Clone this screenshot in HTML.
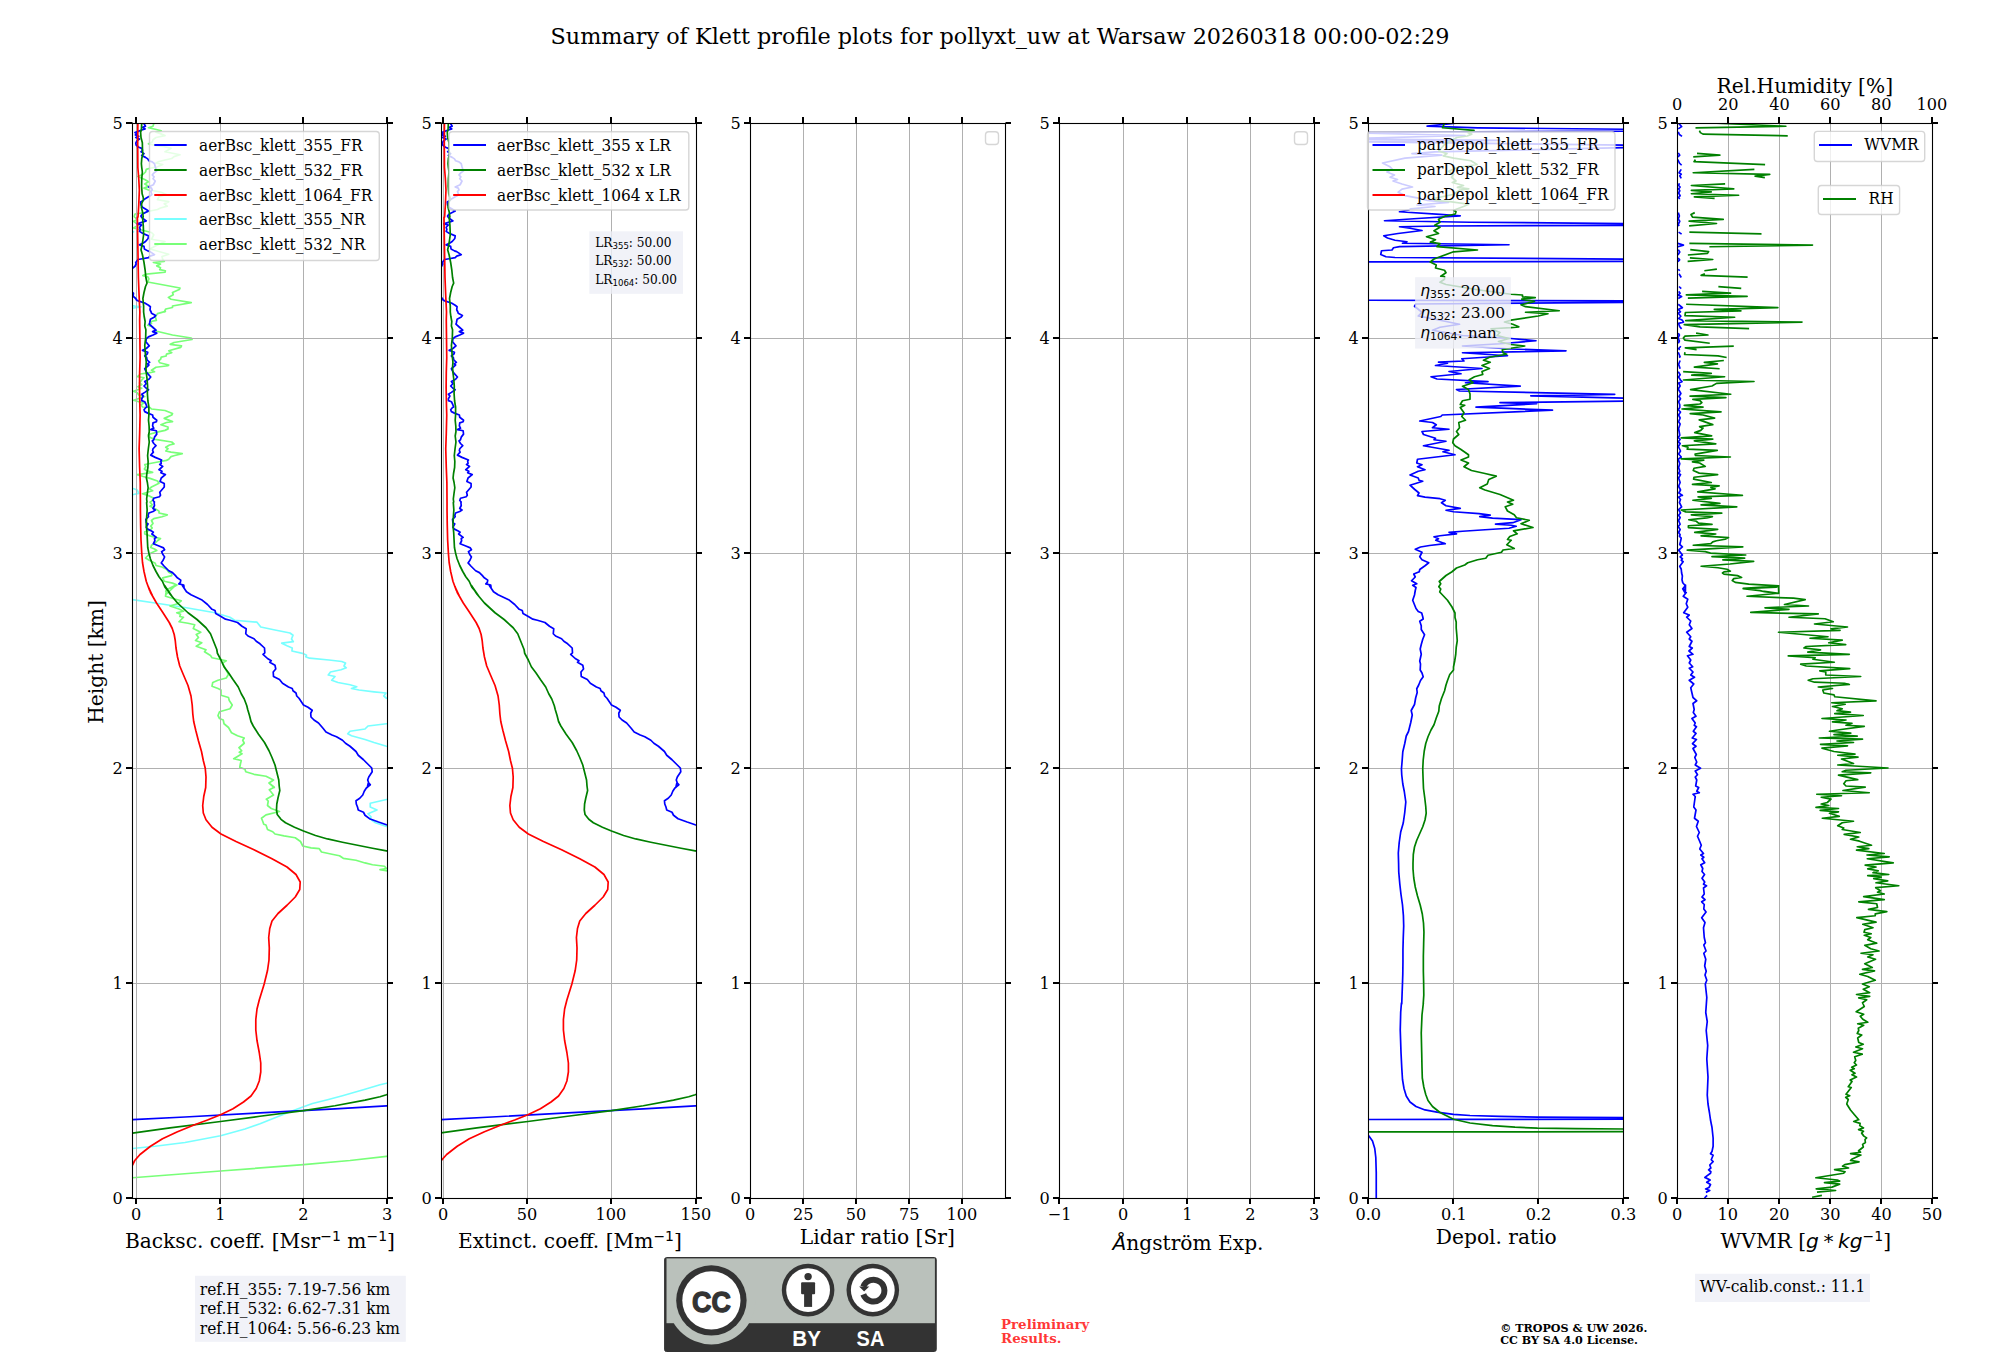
<!DOCTYPE html>
<html lang="en"><head><meta charset="utf-8"><title>Summary of Klett profile plots for pollyxt_uw at Warsaw</title>
<style>html,body{margin:0;padding:0;background:#fff}body{width:2000px;height:1360px;overflow:hidden}svg{display:block}text{white-space:pre}</style>
</head><body>
<svg xmlns="http://www.w3.org/2000/svg" width="2000" height="1360" viewBox="0 0 2000 1360">
<rect x="0" y="0" width="2000" height="1360" fill="#fff"/>
<defs>
<clipPath id="c1"><rect x="132.5" y="123.5" width="255" height="1075"/></clipPath>
<clipPath id="c2"><rect x="441.5" y="123.5" width="255" height="1075"/></clipPath>
<clipPath id="c3"><rect x="750.5" y="123.5" width="255" height="1075"/></clipPath>
<clipPath id="c4"><rect x="1059.5" y="123.5" width="255" height="1075"/></clipPath>
<clipPath id="c5"><rect x="1368.5" y="123.5" width="255" height="1075"/></clipPath>
<clipPath id="c6"><rect x="1677.5" y="123.5" width="255" height="1075"/></clipPath>
</defs>
<text x="1000" y="44.2" font-family="'DejaVu Serif','Liberation Serif',serif" font-size="22.32" fill="#000" text-anchor="middle">Summary of Klett profile plots for pollyxt_uw at Warsaw 20260318 00:00-02:29</text>
<g id="p1">
<g clip-path="url(#c1)">
<polyline points="131.25,231 133.5,231.75 131.25,232.88" fill="none" stroke="#78ffff" stroke-width="1.7" stroke-linejoin="round" stroke-linecap="butt"/>
<polyline points="131.25,305.38 135,306.12 141,306.88 133.5,308 131.25,308.38" fill="none" stroke="#78ffff" stroke-width="1.7" stroke-linejoin="round" stroke-linecap="butt"/>
<polyline points="131.25,487.75 133.12,488.5 137.25,490 138.75,493.38 133.5,494.5 131.25,494.88" fill="none" stroke="#78ffff" stroke-width="1.7" stroke-linejoin="round" stroke-linecap="butt"/>
<polyline points="125,598.8 132.5,599.7 155,603 185,607.5 215,612.75 230,617.25 234.5,620.25 257,622.2 260.75,627 275,630 290,633 293,635.25 291.5,639 293.3,641.7 281.75,643.2 287,645.75 292.25,648 291.95,651 303.5,653.7 306.5,655.2 305.75,656.7 309.5,658.2 329,660 341.75,661.5 345.5,663 344,666 346.25,667.8 341,669.75 330.5,672 328.25,675 335,676.5 331.7,680.25 338,682.5 350,684.75 356.75,686.7 351.5,688.5 359,690 374,691.8 386,693 383.75,696 386.45,698.25 395,699.75" fill="none" stroke="#78ffff" stroke-width="1.7" stroke-linejoin="round" stroke-linecap="butt"/>
<polyline points="395,722.7 386.45,723.75 368,726 365,729 350,731.25 347.75,733.8 351.5,735.75 365,739.5 374,742.5 386.45,746.25 395,748.5" fill="none" stroke="#78ffff" stroke-width="1.7" stroke-linejoin="round" stroke-linecap="butt"/>
<polyline points="395,798.3 386.45,799.5 380,801 370.25,803.25 370.25,807 377,810 368,813.75 371,816.75 370.25,819 375.5,822.75 386.45,826.5 395,828.75" fill="none" stroke="#78ffff" stroke-width="1.7" stroke-linejoin="round" stroke-linecap="butt"/>
<polyline points="125,1149.1 132.5,1148.5 155,1146.25 185,1142.5 220.55,1135.75 245,1129 260,1123.75 275,1117.75 290,1111.75 303.5,1106.8 312.5,1103.5 327.5,1099.75 342.5,1095.7 365,1089.25 380,1084.75 386.45,1083.25 395,1081" fill="none" stroke="#78ffff" stroke-width="1.7" stroke-linejoin="round" stroke-linecap="butt"/>
<polyline points="154.12,122.5 153,126.25 148.5,127.75 155.25,129.25 161.25,130.75 156,132.25 159.75,133.38 165,135.62 156,137.5 153,139.75 152.25,142 148.5,143.88 155.25,145.38 163.5,146.5 171,148.38 165,151.75 172.5,153.25 180,154.75 174,156.62 171.75,158.5 165,160 159,161.5 156,163 162.75,164.5 157.5,166.75 150,168.25 146.25,169.38 145.5,172 143.25,174.25 138,176.5 144.75,179.5 148.5,181.75 144.75,184 148.5,186.25 144,188.12 148.5,190 153.75,190.75 161.25,192.25 166.5,194.5 159,196.75 157.5,199.75 168.75,201.62 164.25,203.88 167.25,206.12 160.5,208 157.5,209.5 150,211 144.75,212.5 135,214 134.25,216.25 134.25,216.75 137.25,219.75 133.5,221.25 138.75,225 133.5,228 142.5,230.25 151.5,232.5 153.75,234.75 151.5,239.25 165,241.5 155.25,246 150,249 168.75,254.25 162,256.5 162.75,259.5 164.25,261.38 153.38,262.5 160.5,264 156.75,265.88 160.5,267.75 159.75,269.62 165.38,270.75 165,272.25 146.25,274.12 142.88,275.62 147.75,276.75 148.88,279 147.75,282 180,288 179.25,289.5 172.5,292.5 173.25,294.75 168.38,297.38 171,299.25 191.25,302.62 172.5,306 172.5,307.5 165.75,309 164.25,312 165.38,311.38 157.5,313.62 155.25,317 156,318.88 156.38,320.38 150.75,321.5 151.5,323.38 147.75,325.25 152.25,326.75 156.75,331.25 172.5,335 191.25,338 192,339.5 174,342.5 170.25,344.38 181.5,345.88 180.75,347.38 168.75,350.75 171.75,352.62 166.5,354.12 166.12,356 161.25,357.12 160.5,359.38 158.62,360.88 159.75,362.75 168.75,365 168,365.75 156,367.25 151.5,370.25 154.5,371.75 148.5,372.88 140.25,374 137.62,376.62 144,377.75 141.75,380 139.5,383 141.75,384.5 138,386.75 141.75,388.25 133.5,391.25 137.25,392.75 138.75,395 144.75,396.5 133.5,400.25 138.75,401.75 144.75,402.5 141,404.75 142.5,407 150,407.5 151.5,409 165,410.5 172.5,413.5 171.75,415 164.25,418.38 172.5,421.6 166.5,422.5 160.88,424.75 168,427 168,428.88 165,430.38 158.25,431.88 148.5,434.5 150,437.5 155.25,439.38 171.75,442 174,443.88 169.5,445 165.75,447.25 168,448.75 165.75,451 171,452.12 182.25,453.62 174.75,455.5 171,456.62 168.75,459.25 166.5,460.38 160.5,461.5 144.75,464.5 145.88,466.75 144.38,469 146.25,470.5 152.62,472.38 142.5,473.88 137.25,474.62 143.25,476.5 150,478.38 157.5,481 159,483.25 151.5,487 149.25,488.88 152.62,490.75 142.5,493.75 148.5,495.62 153.75,498.25 151.5,501.25 150,502.12 152.25,504.75 150,506.25 156,509.25 159,511.12 159,513 167.25,514.88 162,516.75 153.75,518.62 151.5,520.5 153,523.5 150.75,526.12 152.25,528 150,530.25 144.75,531.75 144.75,534 150,535.88 155.25,537.38 160.5,538.5 157.5,540.75 155.25,543 151.5,545.25 150.75,547.5 154.5,549 156.75,550.5 151.5,552.75 147.75,555.75 145.5,558 149.25,560.25 155.25,563.25 156,565.5 162,567 166.5,569.25 168.75,572.25 171.75,573.75 171.75,575.62 162.75,577.88 164.25,581.25 172.5,583.12 177,585 172.5,587.62 168,588.75 165.75,591 166.5,594 176,585 170,588 166.25,590.25 165.5,596.25 173,598.5 181.25,600.75 177.5,603.75 170,606 179,609 183.5,611.25 176.75,612.75 180.5,614.25 179.75,616.5 183.5,617.25 179,621.75 188,623.25 194.75,624.75 193.25,628.5 200.75,632.25 196.25,634.5 198.5,637.5 195.5,640.5 201.8,642.75 196.25,646.2 206,649.8 204.5,651.75 210.5,655.5 212,657.75 226.25,660.75 222.5,663 225.5,669 228.5,674.25 226.25,678 218,680.25 212.75,682.5 212,686.25 218,688.5 221,690 221,695.25 228.5,697.5 229.25,700.5 232.25,705 230,708.75 219.5,711.75 218,715.5 219.5,718.5 223.25,720 224,723.75 228.5,727.5 231.5,732.75 237.5,735.75 244.25,738 242.75,740.25 244.25,743.25 239,747.75 241.7,750.75 239.3,752.25 242,753.75 233.75,758.7 241.25,760.5 240.5,763.5 239.75,767.25 245,769.2 245.75,771.75 254,774.3 266,776.25 273.5,780 269,783 274.25,787.5 269,783 274.25,787.2 269.3,789.75 273.5,795 266.3,799.2 268.25,801 267.5,805.5 271.25,808.5 279.5,811.5 266,814.8 261.5,818.25 262.7,821.25 263.75,824.25 266,825 267.5,829.5 272.75,831.75 275,834 284,835.8 295.25,837.75 300.5,841.5 302.75,846 311,847.8 319.25,848.7 321.5,852 332,854.25 339.5,855.75 343.25,858.3 356,860.25 365,862.95 372.5,864.75 384.5,866.25 386.45,868.5 380,869.7 387.5,870.9 395,871.8" fill="none" stroke="#78ff78" stroke-width="1.7" stroke-linejoin="round" stroke-linecap="butt"/>
<polyline points="125,1178.35 132.5,1177.75 220.55,1171 303.5,1164.7 350,1160.5 386.45,1156.3 395,1155.25" fill="none" stroke="#78ff78" stroke-width="1.7" stroke-linejoin="round" stroke-linecap="butt"/>
</g>
<line x1="136.5" y1="123.5" x2="136.5" y2="1198.5" stroke="#b0b0b0" stroke-width="1"/>
<line x1="220.5" y1="123.5" x2="220.5" y2="1198.5" stroke="#b0b0b0" stroke-width="1"/>
<line x1="303.5" y1="123.5" x2="303.5" y2="1198.5" stroke="#b0b0b0" stroke-width="1"/>
<line x1="387.5" y1="123.5" x2="387.5" y2="1198.5" stroke="#b0b0b0" stroke-width="1"/>
<line x1="132.5" y1="1198.5" x2="387.5" y2="1198.5" stroke="#b0b0b0" stroke-width="1"/>
<line x1="132.5" y1="983.5" x2="387.5" y2="983.5" stroke="#b0b0b0" stroke-width="1"/>
<line x1="132.5" y1="768.5" x2="387.5" y2="768.5" stroke="#b0b0b0" stroke-width="1"/>
<line x1="132.5" y1="553.5" x2="387.5" y2="553.5" stroke="#b0b0b0" stroke-width="1"/>
<line x1="132.5" y1="338.5" x2="387.5" y2="338.5" stroke="#b0b0b0" stroke-width="1"/>
<line x1="132.5" y1="123.5" x2="387.5" y2="123.5" stroke="#b0b0b0" stroke-width="1"/>
<g clip-path="url(#c1)">
<polyline points="143.25,122.5 145.5,126.25 142.5,127.38 145.12,128.88 141.75,130 138.75,131.12 135,132.62 136.88,133.75 135.38,134.88 138.75,136.38 135.75,137.5 139.5,139 136.88,140.88 135.75,143.12 136.12,145 138.75,147.25 141.75,148.38 142.5,150.25 141,151.75 144,153.62 141.75,155.5 145.5,157.38 147.75,158.88 148.88,160.75 152.25,161.88 154.5,163.75 155.25,166.75 156,169 156.75,170.88 153.75,173.12 152.25,175 154.12,176.88 153,178.75 155.25,181 153.38,184.75 148.5,187 151.5,188.12 152.25,190 150.75,191.5 151.88,194.5 150,196 148.5,196.75 144.75,199 143.25,200.5 140.62,202 141,205 142.5,207.25 146.25,209.5 148.5,211 145.5,212.5 142.5,214 141,215.88 141,216.38 142.5,218.25 146.25,220.88 137.25,223.88 141.75,225 139.5,227.25 140.25,229.5 139.5,231.38 142.5,233.25 148.5,235.88 148.12,238.5 145.5,241.5 143.25,243 139.5,244.88 144,246.38 144.38,249 147.75,250.88 150,251.62 154.5,254.62 150,256.12 148.5,257.62 142.5,258.75 138,259.5 135.75,262.5 136.12,264 135,266.25 132.75,268.12 127.5,270 127.5,291 132.75,292.5 133.5,293.25 133.12,296.25 135.75,298.5 136.5,300 138.75,301.12 144.75,303 148.5,305.25 150.38,306.75 150,309.75 151.12,312 151.5,313.25 155.62,315.5 154.5,317 150.38,319.25 149.62,323 149.25,324.12 153,327.5 156,330.12 152.62,331.62 156.75,333.12 153,335 148.5,336.88 146.25,338.75 145.88,341.75 149.25,345.88 146.25,348.5 142.5,350.38 147.75,352.25 147.38,353.75 144.75,356 146.62,357.5 147,359.75 149.62,362.38 147.38,363.88 148.88,365 144.75,368.75 145.88,371 147,372.88 150.75,377 148.88,379.25 144.75,381.5 146.25,383.75 144,386 146.25,388.25 148.5,389.75 144.75,392.38 141.75,394.25 143.25,396.12 141.75,398.75 141.75,400.62 144.75,401.75 145.88,404 147,407 145.88,407.5 144,409.75 144.75,411.62 147.75,413.12 152.62,415 153,417.25 156.75,420.25 156.38,421.75 153,422.88 152.62,425.88 153.75,428.12 150.75,429.62 156.38,430.75 156.75,434.12 154.5,437.12 153.75,439.75 152.25,440.88 153.75,443.5 156,445.6 153,448.75 152.62,450.62 153.38,452.12 150.75,455.12 155.25,457.38 161.62,460 160.88,461.12 161.25,463.38 159.75,464.5 162.75,466.38 159,469.75 162,471.25 160.88,472.75 165.38,474.62 161.25,478 160.12,481.38 164.25,483.62 164.25,487 159.75,492.25 160.5,495.25 159.38,496.75 153.75,498.25 153,500.5 154.5,502 154.12,502.5 154.5,505.5 153,508.5 155.25,510 153,511.5 148.88,513 148.12,515.25 148.5,516.75 145.88,519.38 146.25,522.75 148.12,523.88 146.25,527.25 147.75,529.12 151.5,531 153.38,532.12 151.88,534 156.38,537.38 154.5,538.5 154.88,540.75 153.38,543.75 159,546 163.5,547.88 164.62,549.75 161.62,551.62 162.75,554.25 164.62,556.88 163.12,560.25 161.25,562.88 164.25,566.25 168.75,570.75 172.5,572.62 175.5,575.62 177,577.5 180.75,580.12 180.38,582.38 178.88,583.88 183.75,585 184.12,588 182,585 186.5,591.75 191,594.75 201.5,599.7 207.5,604.5 212,609.3 215,610.5 215.75,613.5 221,616.5 225.5,619.2 230,620.25 237.5,622.5 242,626.25 246.2,628.8 245.75,633.75 248,636 254,638.7 256.25,641.25 260,643.8 264.5,648 264.8,652.8 263,654.3 267.5,658.5 271.25,660.75 269.75,662.25 275,665.25 275.75,669 273.2,672 273.5,676.5 279.5,679.5 282.5,683.25 288.5,687 292.25,688.5 293,690.75 296,693 296.75,696 299,698.25 302,702.75 303.5,705 308,707.25 312.2,710.25 310.7,713.25 311,717 314,720 318.5,723 323,728.25 326,732 332,735 336.5,736.8 342.5,740.25 345.5,743.25 350,746.25 356,751.5 358.25,755.25 363.5,759.75 367.25,763.5 371.75,768 372.2,771.75 368.75,777 367.7,780 368.75,783 370.25,784.5 367.25,787.5 368.3,783 370.25,784.8 366.5,787.8 364.25,791.25 362.75,795 359.75,798.3 356,800.7 356.3,804 357.5,807 358.25,810 363.5,812.25 365,815.25 369.5,818.7 378.5,822 386.45,824.7 395,827.25" fill="none" stroke="#0000ff" stroke-width="1.7" stroke-linejoin="round" stroke-linecap="butt"/>
<polyline points="125,1120.15 132.5,1119.7 185,1117 260,1112.8 335,1108.9 386.45,1105.9 395,1105.45" fill="none" stroke="#0000ff" stroke-width="1.7" stroke-linejoin="round" stroke-linecap="butt"/>
<polyline points="141.75,122.5 141.38,130 140.62,132.25 141,137.5 142.35,142.75 142.5,150.25 142.88,154 141.75,158.5 141.38,163.75 141.75,167.5 142.35,172 141.75,178.75 141.6,186.25 142.12,193.75 143.25,197.5 143.4,199.75 141.75,203.5 141.38,207.25 142.5,211.75 143.25,217 142.5,217.5 143.25,225 143.62,234.75 142.88,240 142.12,245.25 141,249.75 142.5,255 144,262.5 145.12,270 145.88,277.5 147,283.12 145.5,286.5 144,292.5 142.88,298.5 143.62,306 143.62,312 144.15,316.25 145.12,321.5 144.75,326 145.88,329.75 145.65,338 144.75,345.5 145.12,350 145.5,356 146.25,362 145.88,367.25 146.25,372.5 147,378.5 147.6,386 147.38,393.5 147.9,401 148.88,407 148.88,407.5 148.88,415 148.5,420.25 149.1,426.25 149.25,431.5 148.5,436 149.25,442 148.35,448.75 147.6,455.5 148.12,461.5 147.9,467.5 146.85,473.5 146.4,478 147.38,482.5 148.12,487.75 147.38,493 146.62,499 147,502 146.62,502.5 147.15,510 146.62,517.5 146.25,525 147,532.5 147.38,540 147.75,547.5 148.88,553.12 150.38,558.75 153,565.5 156,571.5 159,576.75 162.38,581.25 165,587.25 168.75,591.75 171.75,595.88 164.75,585.75 170,594 177.5,603 188,612.75 197,619.5 206,627.75 210.5,633.75 213.5,641.25 216.8,649.5 217.4,653.25 221,660 224,666.75 228.5,672.75 233,679.5 238.25,687 241.25,693.75 244.25,699 246.8,705.75 247.7,709.5 249.5,715.5 251,721.5 253.25,726 258.5,734.25 264.5,742.5 269,750.75 272,757.5 275,765 276.5,771 278.75,780 279.2,786 279.8,790.5 278,798 276.8,804 276.5,810 277.25,814.5 281,819.3 285.5,822.75 294.5,827.25 303.5,831 315.5,835.5 327.5,838.95 342.5,842.25 357.5,845.25 372.5,848.25 386.45,850.8 395,852.3" fill="none" stroke="#008000" stroke-width="1.7" stroke-linejoin="round" stroke-linecap="butt"/>
<polyline points="125,1134.25 132.5,1133.2 170,1127.8 220.55,1121.5 260,1116.25 303.5,1110.7 335,1105.75 365,1100.2 380,1096.75 386.45,1094.8 395,1091.8" fill="none" stroke="#008000" stroke-width="1.7" stroke-linejoin="round" stroke-linecap="butt"/>
<polyline points="137.85,122.5 137.7,145 137.85,167.5 138.75,178.75 139.35,190 138.75,205 138,217 137.4,217.5 137.62,232.5 138,255 138.38,277.5 139.12,296.25 139.88,312 139.65,320 139.88,338 140.1,357.5 139.65,372.5 139.5,387.5 139.88,407 140.1,415 139.65,433.75 139.12,448.75 139.65,467.5 140.25,482.5 140.4,502 140.4,510 140.62,525 141,540 141.75,553.12 142.5,562.5 144,571.5 146.25,581.25 149.25,589.5 152.4,595.5 148.25,586.5 150.5,592.5 156.5,603 162.5,612 169.25,622.5 172.25,628.5 174.2,634.5 175.25,640.5 176,648 177.5,657 179.75,666 183.5,675 188,685.5 191,696 192.2,705 192.8,714 193.7,721.5 195.8,730.5 198.5,741 201.5,751.5 203.3,760.5 205.25,768.3 206,777 205.7,787.5 203.75,796.5 202.7,805.5 203.3,813 206,819.75 212,827.25 221,834 236,841.5 254,849.75 272,858.75 287,867 296,874.5 300.2,882 299.75,889.5 295.25,897 287,905.25 278,913.5 272,921 269.75,928.5 268.7,937.5 269.3,948 269,960 267.5,970.5 264.2,984 259.25,1000 257,1009 255.8,1019.5 255.8,1030 257,1040.5 259.25,1052.5 260.75,1063 260.75,1072 259.25,1081 256.25,1088.5 251,1096 243.5,1102 233,1108.75 220.55,1114.75 207.5,1120 194,1124.95 177.5,1131.7 162.5,1138.75 150.5,1146.25 140,1154.5 134.75,1160.5 132.5,1165 128,1177" fill="none" stroke="#ff0000" stroke-width="1.7" stroke-linejoin="round" stroke-linecap="butt"/>
</g>
<line x1="136" y1="1198.5" x2="136" y2="1204" stroke="#000" stroke-width="2"/>
<line x1="136" y1="123.5" x2="136" y2="117" stroke="#000" stroke-width="2"/>
<line x1="220" y1="1198.5" x2="220" y2="1204" stroke="#000" stroke-width="2"/>
<line x1="220" y1="123.5" x2="220" y2="117" stroke="#000" stroke-width="2"/>
<line x1="303" y1="1198.5" x2="303" y2="1204" stroke="#000" stroke-width="2"/>
<line x1="303" y1="123.5" x2="303" y2="117" stroke="#000" stroke-width="2"/>
<line x1="387" y1="1198.5" x2="387" y2="1204" stroke="#000" stroke-width="2"/>
<line x1="387" y1="123.5" x2="387" y2="117" stroke="#000" stroke-width="2"/>
<line x1="132.5" y1="1198" x2="126" y2="1198" stroke="#000" stroke-width="2"/>
<line x1="387.5" y1="1198" x2="393" y2="1198" stroke="#000" stroke-width="2"/>
<line x1="132.5" y1="983" x2="126" y2="983" stroke="#000" stroke-width="2"/>
<line x1="387.5" y1="983" x2="393" y2="983" stroke="#000" stroke-width="2"/>
<line x1="132.5" y1="768" x2="126" y2="768" stroke="#000" stroke-width="2"/>
<line x1="387.5" y1="768" x2="393" y2="768" stroke="#000" stroke-width="2"/>
<line x1="132.5" y1="553" x2="126" y2="553" stroke="#000" stroke-width="2"/>
<line x1="387.5" y1="553" x2="393" y2="553" stroke="#000" stroke-width="2"/>
<line x1="132.5" y1="338" x2="126" y2="338" stroke="#000" stroke-width="2"/>
<line x1="387.5" y1="338" x2="393" y2="338" stroke="#000" stroke-width="2"/>
<line x1="132.5" y1="123" x2="126" y2="123" stroke="#000" stroke-width="2"/>
<line x1="387.5" y1="123" x2="393" y2="123" stroke="#000" stroke-width="2"/>
<rect x="132.5" y="123.5" width="255" height="1075" fill="none" stroke="#000" stroke-width="1.1"/>
<text transform="translate(136.26,1219.8) scale(0.9690,1)" font-family="'DejaVu Serif','Liberation Serif',serif" font-size="16.67" fill="#000" text-anchor="middle">0</text>
<text transform="translate(220.4,1219.8) scale(0.9690,1)" font-family="'DejaVu Serif','Liberation Serif',serif" font-size="16.67" fill="#000" text-anchor="middle">1</text>
<text transform="translate(303.5,1219.8) scale(0.9690,1)" font-family="'DejaVu Serif','Liberation Serif',serif" font-size="16.67" fill="#000" text-anchor="middle">2</text>
<text transform="translate(387.24,1219.8) scale(0.9690,1)" font-family="'DejaVu Serif','Liberation Serif',serif" font-size="16.67" fill="#000" text-anchor="middle">3</text>
<text transform="translate(122.9,1204.4) scale(0.9690,1)" font-family="'DejaVu Serif','Liberation Serif',serif" font-size="16.67" fill="#000" text-anchor="end">0</text>
<text transform="translate(122.9,989.4) scale(0.9690,1)" font-family="'DejaVu Serif','Liberation Serif',serif" font-size="16.67" fill="#000" text-anchor="end">1</text>
<text transform="translate(122.9,774.4) scale(0.9690,1)" font-family="'DejaVu Serif','Liberation Serif',serif" font-size="16.67" fill="#000" text-anchor="end">2</text>
<text transform="translate(122.9,559.4) scale(0.9690,1)" font-family="'DejaVu Serif','Liberation Serif',serif" font-size="16.67" fill="#000" text-anchor="end">3</text>
<text transform="translate(122.9,344.4) scale(0.9690,1)" font-family="'DejaVu Serif','Liberation Serif',serif" font-size="16.67" fill="#000" text-anchor="end">4</text>
<text transform="translate(122.9,129.4) scale(0.9690,1)" font-family="'DejaVu Serif','Liberation Serif',serif" font-size="16.67" fill="#000" text-anchor="end">5</text>
</g>
<g id="p2">
<g clip-path="url(#c2)">
</g>
<line x1="443.5" y1="123.5" x2="443.5" y2="1198.5" stroke="#b0b0b0" stroke-width="1"/>
<line x1="527.5" y1="123.5" x2="527.5" y2="1198.5" stroke="#b0b0b0" stroke-width="1"/>
<line x1="611.5" y1="123.5" x2="611.5" y2="1198.5" stroke="#b0b0b0" stroke-width="1"/>
<line x1="696.5" y1="123.5" x2="696.5" y2="1198.5" stroke="#b0b0b0" stroke-width="1"/>
<line x1="441.5" y1="1198.5" x2="696.5" y2="1198.5" stroke="#b0b0b0" stroke-width="1"/>
<line x1="441.5" y1="983.5" x2="696.5" y2="983.5" stroke="#b0b0b0" stroke-width="1"/>
<line x1="441.5" y1="768.5" x2="696.5" y2="768.5" stroke="#b0b0b0" stroke-width="1"/>
<line x1="441.5" y1="553.5" x2="696.5" y2="553.5" stroke="#b0b0b0" stroke-width="1"/>
<line x1="441.5" y1="338.5" x2="696.5" y2="338.5" stroke="#b0b0b0" stroke-width="1"/>
<line x1="441.5" y1="123.5" x2="696.5" y2="123.5" stroke="#b0b0b0" stroke-width="1"/>
<g clip-path="url(#c2)">
<polyline points="449.91,122.5 452.18,126.25 449.15,127.38 451.8,128.88 448.39,130 445.37,131.12 441.59,132.62 443.48,133.75 441.97,134.88 445.37,136.38 442.34,137.5 446.13,139 443.48,140.88 442.34,143.12 442.72,145 445.37,147.25 448.39,148.38 449.15,150.25 447.64,151.75 450.66,153.62 448.39,155.5 452.18,157.38 454.45,158.88 455.58,160.75 458.98,161.88 461.25,163.75 462.01,166.75 462.76,169 463.52,170.88 460.5,173.12 458.98,175 460.87,176.88 459.74,178.75 462.01,181 460.12,184.75 455.2,187 458.23,188.12 458.98,190 457.47,191.5 458.61,194.5 456.71,196 455.2,196.75 451.42,199 449.91,200.5 447.26,202 447.64,205 449.15,207.25 452.93,209.5 455.2,211 452.18,212.5 449.15,214 447.64,215.88 447.64,216.38 449.15,218.25 452.93,220.88 443.86,223.88 448.39,225 446.13,227.25 446.88,229.5 446.13,231.38 449.15,233.25 455.2,235.88 454.82,238.5 452.18,241.5 449.91,243 446.13,244.88 450.66,246.38 451.04,249 454.45,250.88 456.71,251.62 461.25,254.62 456.71,256.12 455.2,257.62 449.15,258.75 444.61,259.5 442.34,262.5 442.72,264 441.59,266.25 439.32,268.12 434.02,270 434.02,291 439.32,292.5 440.07,293.25 439.7,296.25 442.34,298.5 443.1,300 445.37,301.12 451.42,303 455.2,305.25 457.09,306.75 456.71,309.75 457.85,312 458.23,313.25 462.39,315.5 461.25,317 457.09,319.25 456.34,323 455.96,324.12 459.74,327.5 462.76,330.12 459.36,331.62 463.52,333.12 459.74,335 455.2,336.88 452.93,338.75 452.55,341.75 455.96,345.88 452.93,348.5 449.15,350.38 454.45,352.25 454.07,353.75 451.42,356 453.31,357.5 453.69,359.75 456.34,362.38 454.07,363.88 455.58,365 451.42,368.75 452.55,371 453.69,372.88 457.47,377 455.58,379.25 451.42,381.5 452.93,383.75 450.66,386 452.93,388.25 455.2,389.75 451.42,392.38 448.39,394.25 449.91,396.12 448.39,398.75 448.39,400.62 451.42,401.75 452.55,404 453.69,407 452.55,407.5 450.66,409.75 451.42,411.62 454.45,413.12 459.36,415 459.74,417.25 463.52,420.25 463.14,421.75 459.74,422.88 459.36,425.88 460.5,428.12 457.47,429.62 463.14,430.75 463.52,434.12 461.25,437.12 460.5,439.75 458.98,440.88 460.5,443.5 462.76,445.6 459.74,448.75 459.36,450.62 460.12,452.12 457.47,455.12 462.01,457.38 468.44,460 467.68,461.12 468.06,463.38 466.55,464.5 469.57,466.38 465.79,469.75 468.82,471.25 467.68,472.75 472.22,474.62 468.06,478 466.92,481.38 471.08,483.62 471.08,487 466.55,492.25 467.3,495.25 466.17,496.75 460.5,498.25 459.74,500.5 461.25,502 460.87,502.5 461.25,505.5 459.74,508.5 462.01,510 459.74,511.5 455.58,513 454.82,515.25 455.2,516.75 452.55,519.38 452.93,522.75 454.82,523.88 452.93,527.25 454.45,529.12 458.23,531 460.12,532.12 458.61,534 463.14,537.38 461.25,538.5 461.63,540.75 460.12,543.75 465.79,546 470.33,547.88 471.46,549.75 468.44,551.62 469.57,554.25 471.46,556.88 469.95,560.25 468.06,562.88 471.08,566.25 475.62,570.75 479.4,572.62 482.43,575.62 483.94,577.5 487.72,580.12 487.35,582.38 485.83,583.88 490.75,585 491.13,588 488.98,585 493.52,591.75 498.06,594.75 508.65,599.7 514.7,604.5 519.24,609.3 522.26,610.5 523.02,613.5 528.31,616.5 532.85,619.2 537.39,620.25 544.95,622.5 549.49,626.25 553.73,628.8 553.27,633.75 555.54,636 561.59,638.7 563.86,641.25 567.64,643.8 572.18,648 572.49,652.8 570.67,654.3 575.21,658.5 578.99,660.75 577.48,662.25 582.77,665.25 583.53,669 580.96,672 581.26,676.5 587.31,679.5 590.34,683.25 596.39,687 600.17,688.5 600.92,690.75 603.95,693 604.71,696 606.97,698.25 610,702.75 611.51,705 616.05,707.25 620.29,710.25 618.77,713.25 619.08,717 622.1,720 626.64,723 631.18,728.25 634.2,732 640.25,735 644.79,736.8 650.84,740.25 653.87,743.25 658.41,746.25 664.46,751.5 666.73,755.25 672.02,759.75 675.8,763.5 680.34,768 680.79,771.75 677.31,777 676.26,780 677.31,783 678.83,784.5 675.8,787.5 676.86,783 678.83,784.8 675.05,787.8 672.78,791.25 671.26,795 668.24,798.3 664.46,800.7 664.76,804 665.97,807 666.73,810 672.02,812.25 673.53,815.25 678.07,818.7 687.15,822 695.16,824.7 703.79,827.25" fill="none" stroke="#0000ff" stroke-width="1.7" stroke-linejoin="round" stroke-linecap="butt"/>
<polyline points="431.5,1120.15 439.07,1119.7 492.01,1117 567.64,1112.8 643.28,1108.9 695.16,1105.9 703.79,1105.45" fill="none" stroke="#0000ff" stroke-width="1.7" stroke-linejoin="round" stroke-linecap="butt"/>
<polyline points="448.39,122.5 448.02,130 447.26,132.25 447.64,137.5 449,142.75 449.15,150.25 449.53,154 448.39,158.5 448.02,163.75 448.39,167.5 449,172 448.39,178.75 448.24,186.25 448.77,193.75 449.91,197.5 450.06,199.75 448.39,203.5 448.02,207.25 449.15,211.75 449.91,217 449.15,217.5 449.91,225 450.29,234.75 449.53,240 448.77,245.25 447.64,249.75 449.15,255 450.66,262.5 451.8,270 452.55,277.5 453.69,283.12 452.18,286.5 450.66,292.5 449.53,298.5 450.29,306 450.29,312 450.81,316.25 451.8,321.5 451.42,326 452.55,329.75 452.33,338 451.42,345.5 451.8,350 452.18,356 452.93,362 452.55,367.25 452.93,372.5 453.69,378.5 454.29,386 454.07,393.5 454.6,401 455.58,407 455.58,407.5 455.58,415 455.2,420.25 455.81,426.25 455.96,431.5 455.2,436 455.96,442 455.05,448.75 454.29,455.5 454.82,461.5 454.6,467.5 453.54,473.5 453.08,478 454.07,482.5 454.82,487.75 454.07,493 453.31,499 453.69,502 453.31,502.5 453.84,510 453.31,517.5 452.93,525 453.69,532.5 454.07,540 454.45,547.5 455.58,553.12 457.09,558.75 459.74,565.5 462.76,571.5 465.79,576.75 469.19,581.25 471.84,587.25 475.62,591.75 478.65,595.88 471.59,585.75 476.88,594 484.45,603 495.04,612.75 504.11,619.5 513.19,627.75 517.73,633.75 520.75,641.25 524.08,649.5 524.68,653.25 528.31,660 531.34,666.75 535.88,672.75 540.42,679.5 545.71,687 548.74,693.75 551.76,699 554.33,705.75 555.24,709.5 557.06,715.5 558.57,721.5 560.84,726 566.13,734.25 572.18,742.5 576.72,750.75 579.75,757.5 582.77,765 584.28,771 586.55,780 587.01,786 587.61,790.5 585.8,798 584.59,804 584.28,810 585.04,814.5 588.82,819.3 593.36,822.75 602.44,827.25 611.51,831 623.61,835.5 635.72,838.95 650.84,842.25 665.97,845.25 681.1,848.25 695.16,850.8 703.79,852.3" fill="none" stroke="#008000" stroke-width="1.7" stroke-linejoin="round" stroke-linecap="butt"/>
<polyline points="431.5,1134.25 439.07,1133.2 476.88,1127.8 527.86,1121.5 567.64,1116.25 611.51,1110.7 643.28,1105.75 673.53,1100.2 688.66,1096.75 695.16,1094.8 703.79,1091.8" fill="none" stroke="#008000" stroke-width="1.7" stroke-linejoin="round" stroke-linecap="butt"/>
<polyline points="444.46,122.5 444.31,145 444.46,167.5 445.37,178.75 445.97,190 445.37,205 444.61,217 444.01,217.5 444.23,232.5 444.61,255 444.99,277.5 445.75,296.25 446.5,312 446.28,320 446.5,338 446.73,357.5 446.28,372.5 446.13,387.5 446.5,407 446.73,415 446.28,433.75 445.75,448.75 446.28,467.5 446.88,482.5 447.03,502 447.03,510 447.26,525 447.64,540 448.39,553.12 449.15,562.5 450.66,571.5 452.93,581.25 455.96,589.5 459.13,595.5 454.95,586.5 457.22,592.5 463.27,603 469.32,612 476.13,622.5 479.15,628.5 481.12,634.5 482.18,640.5 482.93,648 484.45,657 486.72,666 490.5,675 495.04,685.5 498.06,696 499.27,705 499.88,714 500.78,721.5 502.9,730.5 505.62,741 508.65,751.5 510.47,760.5 512.43,768.3 513.19,777 512.89,787.5 510.92,796.5 509.86,805.5 510.47,813 513.19,819.75 519.24,827.25 528.31,834 543.44,841.5 561.59,849.75 579.75,858.75 594.87,867 603.95,874.5 608.18,882 607.73,889.5 603.19,897 594.87,905.25 585.8,913.5 579.75,921 577.48,928.5 576.42,937.5 577.02,948 576.72,960 575.21,970.5 571.88,984 566.89,1000 564.62,1009 563.41,1019.5 563.41,1030 564.62,1040.5 566.89,1052.5 568.4,1063 568.4,1072 566.89,1081 563.86,1088.5 558.57,1096 551.01,1102 540.42,1108.75 527.86,1114.75 514.7,1120 501.09,1124.95 484.45,1131.7 469.32,1138.75 457.22,1146.25 446.63,1154.5 441.34,1160.5 439.07,1165 434.53,1177" fill="none" stroke="#ff0000" stroke-width="1.7" stroke-linejoin="round" stroke-linecap="butt"/>
</g>
<line x1="443" y1="1198.5" x2="443" y2="1204" stroke="#000" stroke-width="2"/>
<line x1="443" y1="123.5" x2="443" y2="117" stroke="#000" stroke-width="2"/>
<line x1="527" y1="1198.5" x2="527" y2="1204" stroke="#000" stroke-width="2"/>
<line x1="527" y1="123.5" x2="527" y2="117" stroke="#000" stroke-width="2"/>
<line x1="611" y1="1198.5" x2="611" y2="1204" stroke="#000" stroke-width="2"/>
<line x1="611" y1="123.5" x2="611" y2="117" stroke="#000" stroke-width="2"/>
<line x1="696" y1="1198.5" x2="696" y2="1204" stroke="#000" stroke-width="2"/>
<line x1="696" y1="123.5" x2="696" y2="117" stroke="#000" stroke-width="2"/>
<line x1="441.5" y1="1198" x2="435" y2="1198" stroke="#000" stroke-width="2"/>
<line x1="696.5" y1="1198" x2="702" y2="1198" stroke="#000" stroke-width="2"/>
<line x1="441.5" y1="983" x2="435" y2="983" stroke="#000" stroke-width="2"/>
<line x1="696.5" y1="983" x2="702" y2="983" stroke="#000" stroke-width="2"/>
<line x1="441.5" y1="768" x2="435" y2="768" stroke="#000" stroke-width="2"/>
<line x1="696.5" y1="768" x2="702" y2="768" stroke="#000" stroke-width="2"/>
<line x1="441.5" y1="553" x2="435" y2="553" stroke="#000" stroke-width="2"/>
<line x1="696.5" y1="553" x2="702" y2="553" stroke="#000" stroke-width="2"/>
<line x1="441.5" y1="338" x2="435" y2="338" stroke="#000" stroke-width="2"/>
<line x1="696.5" y1="338" x2="702" y2="338" stroke="#000" stroke-width="2"/>
<line x1="441.5" y1="123" x2="435" y2="123" stroke="#000" stroke-width="2"/>
<line x1="696.5" y1="123" x2="702" y2="123" stroke="#000" stroke-width="2"/>
<rect x="441.5" y="123.5" width="255" height="1075" fill="none" stroke="#000" stroke-width="1.1"/>
<text transform="translate(443.26,1219.8) scale(0.9690,1)" font-family="'DejaVu Serif','Liberation Serif',serif" font-size="16.67" fill="#000" text-anchor="middle">0</text>
<text transform="translate(527.09,1219.8) scale(0.9690,1)" font-family="'DejaVu Serif','Liberation Serif',serif" font-size="16.67" fill="#000" text-anchor="middle">50</text>
<text transform="translate(610.8,1219.8) scale(0.9690,1)" font-family="'DejaVu Serif','Liberation Serif',serif" font-size="16.67" fill="#000" text-anchor="middle">100</text>
<text transform="translate(695.8,1219.8) scale(0.9690,1)" font-family="'DejaVu Serif','Liberation Serif',serif" font-size="16.67" fill="#000" text-anchor="middle">150</text>
<text transform="translate(431.9,1204.4) scale(0.9690,1)" font-family="'DejaVu Serif','Liberation Serif',serif" font-size="16.67" fill="#000" text-anchor="end">0</text>
<text transform="translate(431.9,989.4) scale(0.9690,1)" font-family="'DejaVu Serif','Liberation Serif',serif" font-size="16.67" fill="#000" text-anchor="end">1</text>
<text transform="translate(431.9,774.4) scale(0.9690,1)" font-family="'DejaVu Serif','Liberation Serif',serif" font-size="16.67" fill="#000" text-anchor="end">2</text>
<text transform="translate(431.9,559.4) scale(0.9690,1)" font-family="'DejaVu Serif','Liberation Serif',serif" font-size="16.67" fill="#000" text-anchor="end">3</text>
<text transform="translate(431.9,344.4) scale(0.9690,1)" font-family="'DejaVu Serif','Liberation Serif',serif" font-size="16.67" fill="#000" text-anchor="end">4</text>
<text transform="translate(431.9,129.4) scale(0.9690,1)" font-family="'DejaVu Serif','Liberation Serif',serif" font-size="16.67" fill="#000" text-anchor="end">5</text>
</g>
<g id="p3">
<g clip-path="url(#c3)">
</g>
<line x1="750.5" y1="123.5" x2="750.5" y2="1198.5" stroke="#b0b0b0" stroke-width="1"/>
<line x1="803.5" y1="123.5" x2="803.5" y2="1198.5" stroke="#b0b0b0" stroke-width="1"/>
<line x1="856.5" y1="123.5" x2="856.5" y2="1198.5" stroke="#b0b0b0" stroke-width="1"/>
<line x1="909.5" y1="123.5" x2="909.5" y2="1198.5" stroke="#b0b0b0" stroke-width="1"/>
<line x1="962.5" y1="123.5" x2="962.5" y2="1198.5" stroke="#b0b0b0" stroke-width="1"/>
<line x1="750.5" y1="1198.5" x2="1005.5" y2="1198.5" stroke="#b0b0b0" stroke-width="1"/>
<line x1="750.5" y1="983.5" x2="1005.5" y2="983.5" stroke="#b0b0b0" stroke-width="1"/>
<line x1="750.5" y1="768.5" x2="1005.5" y2="768.5" stroke="#b0b0b0" stroke-width="1"/>
<line x1="750.5" y1="553.5" x2="1005.5" y2="553.5" stroke="#b0b0b0" stroke-width="1"/>
<line x1="750.5" y1="338.5" x2="1005.5" y2="338.5" stroke="#b0b0b0" stroke-width="1"/>
<line x1="750.5" y1="123.5" x2="1005.5" y2="123.5" stroke="#b0b0b0" stroke-width="1"/>
<g clip-path="url(#c3)">
</g>
<line x1="750" y1="1198.5" x2="750" y2="1204" stroke="#000" stroke-width="2"/>
<line x1="750" y1="123.5" x2="750" y2="117" stroke="#000" stroke-width="2"/>
<line x1="803" y1="1198.5" x2="803" y2="1204" stroke="#000" stroke-width="2"/>
<line x1="803" y1="123.5" x2="803" y2="117" stroke="#000" stroke-width="2"/>
<line x1="856" y1="1198.5" x2="856" y2="1204" stroke="#000" stroke-width="2"/>
<line x1="856" y1="123.5" x2="856" y2="117" stroke="#000" stroke-width="2"/>
<line x1="909" y1="1198.5" x2="909" y2="1204" stroke="#000" stroke-width="2"/>
<line x1="909" y1="123.5" x2="909" y2="117" stroke="#000" stroke-width="2"/>
<line x1="962" y1="1198.5" x2="962" y2="1204" stroke="#000" stroke-width="2"/>
<line x1="962" y1="123.5" x2="962" y2="117" stroke="#000" stroke-width="2"/>
<line x1="750.5" y1="1198" x2="744" y2="1198" stroke="#000" stroke-width="2"/>
<line x1="1005.5" y1="1198" x2="1011" y2="1198" stroke="#000" stroke-width="2"/>
<line x1="750.5" y1="983" x2="744" y2="983" stroke="#000" stroke-width="2"/>
<line x1="1005.5" y1="983" x2="1011" y2="983" stroke="#000" stroke-width="2"/>
<line x1="750.5" y1="768" x2="744" y2="768" stroke="#000" stroke-width="2"/>
<line x1="1005.5" y1="768" x2="1011" y2="768" stroke="#000" stroke-width="2"/>
<line x1="750.5" y1="553" x2="744" y2="553" stroke="#000" stroke-width="2"/>
<line x1="1005.5" y1="553" x2="1011" y2="553" stroke="#000" stroke-width="2"/>
<line x1="750.5" y1="338" x2="744" y2="338" stroke="#000" stroke-width="2"/>
<line x1="1005.5" y1="338" x2="1011" y2="338" stroke="#000" stroke-width="2"/>
<line x1="750.5" y1="123" x2="744" y2="123" stroke="#000" stroke-width="2"/>
<line x1="1005.5" y1="123" x2="1011" y2="123" stroke="#000" stroke-width="2"/>
<rect x="750.5" y="123.5" width="255" height="1075" fill="none" stroke="#000" stroke-width="1.1"/>
<text transform="translate(750.26,1219.8) scale(0.9690,1)" font-family="'DejaVu Serif','Liberation Serif',serif" font-size="16.67" fill="#000" text-anchor="middle">0</text>
<text transform="translate(803.31,1219.8) scale(0.9690,1)" font-family="'DejaVu Serif','Liberation Serif',serif" font-size="16.67" fill="#000" text-anchor="middle">25</text>
<text transform="translate(856.09,1219.8) scale(0.9690,1)" font-family="'DejaVu Serif','Liberation Serif',serif" font-size="16.67" fill="#000" text-anchor="middle">50</text>
<text transform="translate(909.17,1219.8) scale(0.9690,1)" font-family="'DejaVu Serif','Liberation Serif',serif" font-size="16.67" fill="#000" text-anchor="middle">75</text>
<text transform="translate(961.8,1219.8) scale(0.9690,1)" font-family="'DejaVu Serif','Liberation Serif',serif" font-size="16.67" fill="#000" text-anchor="middle">100</text>
<text transform="translate(740.9,1204.4) scale(0.9690,1)" font-family="'DejaVu Serif','Liberation Serif',serif" font-size="16.67" fill="#000" text-anchor="end">0</text>
<text transform="translate(740.9,989.4) scale(0.9690,1)" font-family="'DejaVu Serif','Liberation Serif',serif" font-size="16.67" fill="#000" text-anchor="end">1</text>
<text transform="translate(740.9,774.4) scale(0.9690,1)" font-family="'DejaVu Serif','Liberation Serif',serif" font-size="16.67" fill="#000" text-anchor="end">2</text>
<text transform="translate(740.9,559.4) scale(0.9690,1)" font-family="'DejaVu Serif','Liberation Serif',serif" font-size="16.67" fill="#000" text-anchor="end">3</text>
<text transform="translate(740.9,344.4) scale(0.9690,1)" font-family="'DejaVu Serif','Liberation Serif',serif" font-size="16.67" fill="#000" text-anchor="end">4</text>
<text transform="translate(740.9,129.4) scale(0.9690,1)" font-family="'DejaVu Serif','Liberation Serif',serif" font-size="16.67" fill="#000" text-anchor="end">5</text>
</g>
<g id="p4">
<g clip-path="url(#c4)">
</g>
<line x1="1059.5" y1="123.5" x2="1059.5" y2="1198.5" stroke="#b0b0b0" stroke-width="1"/>
<line x1="1123.5" y1="123.5" x2="1123.5" y2="1198.5" stroke="#b0b0b0" stroke-width="1"/>
<line x1="1187.5" y1="123.5" x2="1187.5" y2="1198.5" stroke="#b0b0b0" stroke-width="1"/>
<line x1="1250.5" y1="123.5" x2="1250.5" y2="1198.5" stroke="#b0b0b0" stroke-width="1"/>
<line x1="1314.5" y1="123.5" x2="1314.5" y2="1198.5" stroke="#b0b0b0" stroke-width="1"/>
<line x1="1059.5" y1="1198.5" x2="1314.5" y2="1198.5" stroke="#b0b0b0" stroke-width="1"/>
<line x1="1059.5" y1="983.5" x2="1314.5" y2="983.5" stroke="#b0b0b0" stroke-width="1"/>
<line x1="1059.5" y1="768.5" x2="1314.5" y2="768.5" stroke="#b0b0b0" stroke-width="1"/>
<line x1="1059.5" y1="553.5" x2="1314.5" y2="553.5" stroke="#b0b0b0" stroke-width="1"/>
<line x1="1059.5" y1="338.5" x2="1314.5" y2="338.5" stroke="#b0b0b0" stroke-width="1"/>
<line x1="1059.5" y1="123.5" x2="1314.5" y2="123.5" stroke="#b0b0b0" stroke-width="1"/>
<g clip-path="url(#c4)">
</g>
<line x1="1059" y1="1198.5" x2="1059" y2="1204" stroke="#000" stroke-width="2"/>
<line x1="1059" y1="123.5" x2="1059" y2="117" stroke="#000" stroke-width="2"/>
<line x1="1123" y1="1198.5" x2="1123" y2="1204" stroke="#000" stroke-width="2"/>
<line x1="1123" y1="123.5" x2="1123" y2="117" stroke="#000" stroke-width="2"/>
<line x1="1187" y1="1198.5" x2="1187" y2="1204" stroke="#000" stroke-width="2"/>
<line x1="1187" y1="123.5" x2="1187" y2="117" stroke="#000" stroke-width="2"/>
<line x1="1250" y1="1198.5" x2="1250" y2="1204" stroke="#000" stroke-width="2"/>
<line x1="1250" y1="123.5" x2="1250" y2="117" stroke="#000" stroke-width="2"/>
<line x1="1314" y1="1198.5" x2="1314" y2="1204" stroke="#000" stroke-width="2"/>
<line x1="1314" y1="123.5" x2="1314" y2="117" stroke="#000" stroke-width="2"/>
<line x1="1059.5" y1="1198" x2="1053" y2="1198" stroke="#000" stroke-width="2"/>
<line x1="1314.5" y1="1198" x2="1320" y2="1198" stroke="#000" stroke-width="2"/>
<line x1="1059.5" y1="983" x2="1053" y2="983" stroke="#000" stroke-width="2"/>
<line x1="1314.5" y1="983" x2="1320" y2="983" stroke="#000" stroke-width="2"/>
<line x1="1059.5" y1="768" x2="1053" y2="768" stroke="#000" stroke-width="2"/>
<line x1="1314.5" y1="768" x2="1320" y2="768" stroke="#000" stroke-width="2"/>
<line x1="1059.5" y1="553" x2="1053" y2="553" stroke="#000" stroke-width="2"/>
<line x1="1314.5" y1="553" x2="1320" y2="553" stroke="#000" stroke-width="2"/>
<line x1="1059.5" y1="338" x2="1053" y2="338" stroke="#000" stroke-width="2"/>
<line x1="1314.5" y1="338" x2="1320" y2="338" stroke="#000" stroke-width="2"/>
<line x1="1059.5" y1="123" x2="1053" y2="123" stroke="#000" stroke-width="2"/>
<line x1="1314.5" y1="123" x2="1320" y2="123" stroke="#000" stroke-width="2"/>
<rect x="1059.5" y="123.5" width="255" height="1075" fill="none" stroke="#000" stroke-width="1.1"/>
<text transform="translate(1059.55,1219.8) scale(0.9690,1)" font-family="'DejaVu Serif','Liberation Serif',serif" font-size="16.67" fill="#000" text-anchor="middle">−1</text>
<text transform="translate(1123.26,1219.8) scale(0.9690,1)" font-family="'DejaVu Serif','Liberation Serif',serif" font-size="16.67" fill="#000" text-anchor="middle">0</text>
<text transform="translate(1187.4,1219.8) scale(0.9690,1)" font-family="'DejaVu Serif','Liberation Serif',serif" font-size="16.67" fill="#000" text-anchor="middle">1</text>
<text transform="translate(1250.5,1219.8) scale(0.9690,1)" font-family="'DejaVu Serif','Liberation Serif',serif" font-size="16.67" fill="#000" text-anchor="middle">2</text>
<text transform="translate(1314.24,1219.8) scale(0.9690,1)" font-family="'DejaVu Serif','Liberation Serif',serif" font-size="16.67" fill="#000" text-anchor="middle">3</text>
<text transform="translate(1049.9,1204.4) scale(0.9690,1)" font-family="'DejaVu Serif','Liberation Serif',serif" font-size="16.67" fill="#000" text-anchor="end">0</text>
<text transform="translate(1049.9,989.4) scale(0.9690,1)" font-family="'DejaVu Serif','Liberation Serif',serif" font-size="16.67" fill="#000" text-anchor="end">1</text>
<text transform="translate(1049.9,774.4) scale(0.9690,1)" font-family="'DejaVu Serif','Liberation Serif',serif" font-size="16.67" fill="#000" text-anchor="end">2</text>
<text transform="translate(1049.9,559.4) scale(0.9690,1)" font-family="'DejaVu Serif','Liberation Serif',serif" font-size="16.67" fill="#000" text-anchor="end">3</text>
<text transform="translate(1049.9,344.4) scale(0.9690,1)" font-family="'DejaVu Serif','Liberation Serif',serif" font-size="16.67" fill="#000" text-anchor="end">4</text>
<text transform="translate(1049.9,129.4) scale(0.9690,1)" font-family="'DejaVu Serif','Liberation Serif',serif" font-size="16.67" fill="#000" text-anchor="end">5</text>
</g>
<g id="p5">
<g clip-path="url(#c5)">
</g>
<line x1="1368.5" y1="123.5" x2="1368.5" y2="1198.5" stroke="#b0b0b0" stroke-width="1"/>
<line x1="1453.5" y1="123.5" x2="1453.5" y2="1198.5" stroke="#b0b0b0" stroke-width="1"/>
<line x1="1538.5" y1="123.5" x2="1538.5" y2="1198.5" stroke="#b0b0b0" stroke-width="1"/>
<line x1="1623.5" y1="123.5" x2="1623.5" y2="1198.5" stroke="#b0b0b0" stroke-width="1"/>
<line x1="1368.5" y1="1198.5" x2="1623.5" y2="1198.5" stroke="#b0b0b0" stroke-width="1"/>
<line x1="1368.5" y1="983.5" x2="1623.5" y2="983.5" stroke="#b0b0b0" stroke-width="1"/>
<line x1="1368.5" y1="768.5" x2="1623.5" y2="768.5" stroke="#b0b0b0" stroke-width="1"/>
<line x1="1368.5" y1="553.5" x2="1623.5" y2="553.5" stroke="#b0b0b0" stroke-width="1"/>
<line x1="1368.5" y1="338.5" x2="1623.5" y2="338.5" stroke="#b0b0b0" stroke-width="1"/>
<line x1="1368.5" y1="123.5" x2="1623.5" y2="123.5" stroke="#b0b0b0" stroke-width="1"/>
<g clip-path="url(#c5)">
<polyline points="1458.2,123 1427.1,126.2 1477.8,127.8 1660,129.6 1660,131 1340,132.6 1465,135.5 1340,138.8 1500,140.3 1340,141.6 1660,145.5 1660,146.9 1435,151.8 1412,153.6 1441.8,155.1 1405,158.1 1382.5,163 1390,166.8 1392.2,169 1387,172 1394.5,175 1390,177.2 1397.5,179.5 1393,181 1402,184 1412.5,187 1402,189.2 1398.2,192.2 1405,195.6 1418.5,198.2 1427.5,200.5 1448.5,202.4 1417,205 1435,206.5 1411,208.8 1408,210.2 1399.5,211.75 1440,214.3 1460.25,215.8 1417.5,218.5 1384.5,220.75 1470,222.25 1650,223.75 1650,225.25 1440,226 1399.5,226.75 1410,228.25 1422,230.5 1398,233.5 1383.75,235.75 1387.5,238 1395,240.25 1407,241.75 1402.5,243.25 1509,244.75 1399.5,246.7 1393.5,247.75 1392,250 1381.5,250.75 1380.75,254.5 1386,256.75 1395,257.5 1650,259.3 1650,261.25 1335,262" fill="none" stroke="#0000ff" stroke-width="1.7" stroke-linejoin="round" stroke-linecap="butt"/>
<polyline points="1335,299.95 1367.7,300.25 1650,301 1650,302.2 1416,304 1414.5,306.25 1422,312.25 1418.25,316 1434,319 1459.5,324.25 1440,327.25 1432.5,330.25 1462.5,335.5 1500,337.75 1510.95,338.5 1536,340.75 1500,343.75 1462.5,346 1510.95,349 1566,350.8 1462.5,352.75 1507.5,355.75 1461.75,358.75 1464,361 1438.5,362.2 1447.5,363.25 1435.5,365.5 1482,368.5 1449,371.5 1461,373.75 1431,376.75 1437,379 1488,381.7 1465.5,382.75 1520.25,386.2 1456.5,389.5 1459.5,391 1614.75,394.3 1530.75,395.8 1650,398.8 1650,400.75 1500,402.7 1536.75,403.75 1476,407.2 1552.5,410.2 1442.25,415 1440.75,416.5 1419.75,421 1432.5,422.5 1436.25,424.75 1432.5,427.75 1449,429.25 1422,431.5 1423.5,434.5 1435.5,438.25 1434,439.75 1446,441.25 1423.5,445.75 1449,450.25 1443,451.75 1455,454.75 1417.5,459.25 1416.75,463 1422,464.8 1417.5,466.75 1425,469.75 1418.25,471.25 1410,475 1410,475 1418.25,478 1419,480.25 1422.75,481.3 1410,485.2 1414.5,489.25 1419,493 1417.5,495.7 1425,497.2 1440,498.7 1445.25,500.2 1441.5,502.75 1446,505.75 1460.25,508.3 1446,510.25 1453.5,511.75 1479,513.7 1490.25,515.2 1479.75,516.7 1492.5,518.2 1521,519.7 1512.75,522.7 1495.5,524.2 1511.25,525.25 1516.2,526.3 1509,528.25 1485,529.75 1462.5,531.25 1449,532.3 1456.5,533.8 1440,535.75 1434,536.8 1438.5,538.75 1435.8,540.25 1445.25,543.7 1429.5,545.5 1420.5,547 1415.25,549.25 1422,552.25 1419.75,556.75 1422,559.75 1428.75,562.75 1425,565.75 1419.75,569.5 1419.3,571.75 1413.75,574 1415.25,577 1411.5,580.75 1416.75,583.75 1412.7,585.25 1416,587.5 1415.25,590.5 1414.5,595 1412.7,600.25 1414.2,604 1416,608.5 1418.25,611.5 1421.7,613 1422.75,616.75 1423.2,619 1419.75,621.25 1421.25,625.75 1421.25,629.5 1424.55,634.75 1422.75,639.25 1421.25,644.5 1420.2,649 1421.25,654.25 1419.75,661 1420.5,664 1420.2,670 1422,673 1423.2,676.75 1420.5,680.5 1418.7,685 1416.75,688.75 1417.2,692.5 1415.7,697.75 1414.5,704.5 1411.2,710.5 1412.25,715 1410.75,722.5 1408.5,731.5 1406.25,736 1404.75,743.5 1402.8,751.75 1402.2,760 1401.45,769 1401.75,775 1402.8,784 1404.3,791.5 1405.8,802 1404.75,812.5 1403.25,823 1400.7,832 1399.2,842.5 1398.3,853 1398.6,863.5 1398.75,872 1399.8,884 1401,894.5 1402.5,905 1403.4,915.5 1403.7,926 1403.25,938 1402.95,950 1402.95,962 1402.8,974 1402.5,983.3 1402.05,995 1401.75,1004 1401.45,1003 1400.7,1012 1400.25,1030 1401,1052.5 1401.75,1067.5 1402.5,1079.5 1404,1088.5 1406.25,1096 1410,1102 1416,1106.5 1425,1109.95 1437,1112.2 1453.5,1114.3 1470,1115.5 1500,1116.4 1537.5,1117.15 1575,1117.45 1650,1117.6 1650,1119.25 1453.5,1119.4 1335,1119.55" fill="none" stroke="#0000ff" stroke-width="1.7" stroke-linejoin="round" stroke-linecap="butt"/>
<polyline points="1335,1132 1368.75,1135.75 1372.5,1141 1374.75,1148.5 1375.8,1157.5 1376.25,1172.5 1376.25,1210" fill="none" stroke="#0000ff" stroke-width="1.7" stroke-linejoin="round" stroke-linecap="butt"/>
<polyline points="1444.75,122.5 1442.5,127.75 1474,130.38 1468,132.62 1471.75,134.12 1467.25,136 1456.75,137.5 1453,139.75 1444.75,144.25 1438.75,151 1447,153.62 1443.25,155.88 1453.75,158.12 1471,160.75 1477,164.5 1457.5,167.5 1448.5,171.25 1453.75,174.25 1451.5,177.25 1456,181 1452.25,182.5 1463.5,185.5 1457.5,187.38 1468.75,188.88 1459.75,190 1453,194.5 1435,198.25 1435,200.5 1450,201.62 1468.75,204.25 1463.5,206.5 1457.5,208.75 1453.75,210.25 1456,211.75 1455.25,214 1445.5,216.25 1446,215.8 1438.5,219.25 1440,222.25 1434.75,225.25 1440,227.2 1434,230.8 1438.5,233.5 1426.5,236.8 1435.5,239.8 1430.25,242.2 1440,243.7 1437,246.7 1477.5,250 1453.5,251.8 1434,259 1430.25,262 1436.25,265 1435.5,268 1444.5,270.25 1446,272.8 1440.75,276.25 1444.5,276.7 1444.5,279.25 1440,282.25 1446,284.5 1477.5,289.75 1510.95,294.25 1522.5,295 1522.5,296.8 1535.25,297.7 1521.75,299.2 1534.5,301.45 1521,304.75 1525.5,306.7 1559.25,310.75 1525.5,312.25 1548,313.75 1538.25,316 1510.95,320.2 1504.5,322 1512.75,324.25 1518.75,326.8 1510.95,327.7 1491,328.75 1500,332.5 1497,335.5 1509,338.5 1498.5,341.5 1510.95,344.5 1524.75,346 1510.95,348.25 1502.25,349.75 1503,352.75 1506.75,354.25 1489.5,357.25 1483.5,360.25 1490.25,362.2 1482,365.5 1489.5,368.5 1482,371.5 1482.75,374.5 1474.5,376.75 1469.25,379.75 1473,382.75 1462.5,386.2 1468.5,389.5 1470,394 1470,399.25 1462.5,400.75 1460.25,404.5 1464.75,405.25 1460.25,407.5 1464,412.75 1461.75,416.5 1465.5,420.25 1458.75,422.5 1459.5,427.75 1456.5,431.5 1458.75,434.5 1453.5,439 1452.75,442.75 1455,445.75 1461,449.5 1468.5,454.75 1468.5,457 1461,460 1468.5,463 1464,466.75 1471.5,470.5 1485,473.5 1496.25,476.05 1496.25,476.2 1488.75,479.5 1487.25,484 1479.75,487.75 1485,490 1500,494.5 1513.5,500.2 1507.5,502 1512.75,504.25 1505.25,506.8 1507.5,511 1514.25,514.75 1516.5,517.75 1529.25,520.3 1521,523.75 1533,527.5 1513.5,530.8 1517.25,533.8 1509.75,536.5 1507.5,539.5 1511.25,540.25 1506.75,544.75 1514.25,548.5 1503,550 1501.5,552.25 1488,555.25 1485.75,558.25 1477.5,559.75 1467.75,562.75 1464.75,565 1456.5,568 1452,571.75 1446,575.5 1439.25,581.5 1440.75,583.75 1438.8,586.75 1440.75,589 1439.7,592 1447.5,600.25 1452,607 1455,613 1455,617.5 1456.2,622 1456.2,628 1456.8,634.75 1457.25,640.75 1456.2,647.5 1455.75,654.25 1454.7,661 1453.5,667 1453.5,670 1449.75,674.5 1447.5,680.5 1446,685 1444.5,691 1441.5,698.5 1439.25,706 1438.8,711.25 1436.25,718 1434,724.75 1431,730 1428,736.75 1425.75,743.5 1424.25,751 1423.2,760 1422.75,769 1423.05,778 1423.5,788.5 1424.7,797.5 1425.75,806.5 1426.2,813.25 1425,820 1422.75,826.75 1419.75,833.5 1416.75,840.25 1414.5,847 1413.3,854.5 1413,863.5 1413,869 1413.75,878 1415.25,887 1417.5,896 1420.2,905 1422.3,914 1423.5,923 1423.95,932 1423.65,944 1423.35,956 1423.35,971 1423.65,983.3 1423.8,995 1423.2,1004 1423.35,1003 1422,1015 1421.25,1033 1421.7,1052.5 1422,1067.5 1422.3,1078 1423.8,1087 1425.75,1094.5 1428,1100.5 1432.5,1106.5 1440,1112.5 1453.5,1119.25 1470,1123 1492.5,1125.7 1515,1127.2 1537.5,1128.1 1575,1128.7 1650,1129.15 1650,1131.7 1335,1132" fill="none" stroke="#008000" stroke-width="1.7" stroke-linejoin="round" stroke-linecap="butt"/>
</g>
<line x1="1368" y1="1198.5" x2="1368" y2="1204" stroke="#000" stroke-width="2"/>
<line x1="1368" y1="123.5" x2="1368" y2="117" stroke="#000" stroke-width="2"/>
<line x1="1453" y1="1198.5" x2="1453" y2="1204" stroke="#000" stroke-width="2"/>
<line x1="1453" y1="123.5" x2="1453" y2="117" stroke="#000" stroke-width="2"/>
<line x1="1538" y1="1198.5" x2="1538" y2="1204" stroke="#000" stroke-width="2"/>
<line x1="1538" y1="123.5" x2="1538" y2="117" stroke="#000" stroke-width="2"/>
<line x1="1623" y1="1198.5" x2="1623" y2="1204" stroke="#000" stroke-width="2"/>
<line x1="1623" y1="123.5" x2="1623" y2="117" stroke="#000" stroke-width="2"/>
<line x1="1368.5" y1="1198" x2="1362" y2="1198" stroke="#000" stroke-width="2"/>
<line x1="1623.5" y1="1198" x2="1629" y2="1198" stroke="#000" stroke-width="2"/>
<line x1="1368.5" y1="983" x2="1362" y2="983" stroke="#000" stroke-width="2"/>
<line x1="1623.5" y1="983" x2="1629" y2="983" stroke="#000" stroke-width="2"/>
<line x1="1368.5" y1="768" x2="1362" y2="768" stroke="#000" stroke-width="2"/>
<line x1="1623.5" y1="768" x2="1629" y2="768" stroke="#000" stroke-width="2"/>
<line x1="1368.5" y1="553" x2="1362" y2="553" stroke="#000" stroke-width="2"/>
<line x1="1623.5" y1="553" x2="1629" y2="553" stroke="#000" stroke-width="2"/>
<line x1="1368.5" y1="338" x2="1362" y2="338" stroke="#000" stroke-width="2"/>
<line x1="1623.5" y1="338" x2="1629" y2="338" stroke="#000" stroke-width="2"/>
<line x1="1368.5" y1="123" x2="1362" y2="123" stroke="#000" stroke-width="2"/>
<line x1="1623.5" y1="123" x2="1629" y2="123" stroke="#000" stroke-width="2"/>
<rect x="1368.5" y="123.5" width="255" height="1075" fill="none" stroke="#000" stroke-width="1.1"/>
<text transform="translate(1368.25,1219.8) scale(0.9690,1)" font-family="'DejaVu Serif','Liberation Serif',serif" font-size="16.67" fill="#000" text-anchor="middle">0.0</text>
<text transform="translate(1453.86,1219.8) scale(0.9690,1)" font-family="'DejaVu Serif','Liberation Serif',serif" font-size="16.67" fill="#000" text-anchor="middle">0.1</text>
<text transform="translate(1538.52,1219.8) scale(0.9690,1)" font-family="'DejaVu Serif','Liberation Serif',serif" font-size="16.67" fill="#000" text-anchor="middle">0.2</text>
<text transform="translate(1623.31,1219.8) scale(0.9690,1)" font-family="'DejaVu Serif','Liberation Serif',serif" font-size="16.67" fill="#000" text-anchor="middle">0.3</text>
<text transform="translate(1358.9,1204.4) scale(0.9690,1)" font-family="'DejaVu Serif','Liberation Serif',serif" font-size="16.67" fill="#000" text-anchor="end">0</text>
<text transform="translate(1358.9,989.4) scale(0.9690,1)" font-family="'DejaVu Serif','Liberation Serif',serif" font-size="16.67" fill="#000" text-anchor="end">1</text>
<text transform="translate(1358.9,774.4) scale(0.9690,1)" font-family="'DejaVu Serif','Liberation Serif',serif" font-size="16.67" fill="#000" text-anchor="end">2</text>
<text transform="translate(1358.9,559.4) scale(0.9690,1)" font-family="'DejaVu Serif','Liberation Serif',serif" font-size="16.67" fill="#000" text-anchor="end">3</text>
<text transform="translate(1358.9,344.4) scale(0.9690,1)" font-family="'DejaVu Serif','Liberation Serif',serif" font-size="16.67" fill="#000" text-anchor="end">4</text>
<text transform="translate(1358.9,129.4) scale(0.9690,1)" font-family="'DejaVu Serif','Liberation Serif',serif" font-size="16.67" fill="#000" text-anchor="end">5</text>
</g>
<g id="p6">
<g clip-path="url(#c6)">
</g>
<line x1="1677.5" y1="123.5" x2="1677.5" y2="1198.5" stroke="#b0b0b0" stroke-width="1"/>
<line x1="1728.5" y1="123.5" x2="1728.5" y2="1198.5" stroke="#b0b0b0" stroke-width="1"/>
<line x1="1779.5" y1="123.5" x2="1779.5" y2="1198.5" stroke="#b0b0b0" stroke-width="1"/>
<line x1="1830.5" y1="123.5" x2="1830.5" y2="1198.5" stroke="#b0b0b0" stroke-width="1"/>
<line x1="1881.5" y1="123.5" x2="1881.5" y2="1198.5" stroke="#b0b0b0" stroke-width="1"/>
<line x1="1932.5" y1="123.5" x2="1932.5" y2="1198.5" stroke="#b0b0b0" stroke-width="1"/>
<line x1="1677.5" y1="1198.5" x2="1932.5" y2="1198.5" stroke="#b0b0b0" stroke-width="1"/>
<line x1="1677.5" y1="983.5" x2="1932.5" y2="983.5" stroke="#b0b0b0" stroke-width="1"/>
<line x1="1677.5" y1="768.5" x2="1932.5" y2="768.5" stroke="#b0b0b0" stroke-width="1"/>
<line x1="1677.5" y1="553.5" x2="1932.5" y2="553.5" stroke="#b0b0b0" stroke-width="1"/>
<line x1="1677.5" y1="338.5" x2="1932.5" y2="338.5" stroke="#b0b0b0" stroke-width="1"/>
<line x1="1677.5" y1="123.5" x2="1932.5" y2="123.5" stroke="#b0b0b0" stroke-width="1"/>
<g clip-path="url(#c6)">
<polyline points="1677.88,122.5 1681.62,126.62 1678.25,128.88" fill="none" stroke="#0000ff" stroke-width="1.7" stroke-linejoin="round" stroke-linecap="butt"/>
<polyline points="1678.25,131.88 1679.38,134.5 1682,136.38" fill="none" stroke="#0000ff" stroke-width="1.7" stroke-linejoin="round" stroke-linecap="butt"/>
<polyline points="1678.25,152.88 1679.75,155.12 1677.88,157" fill="none" stroke="#0000ff" stroke-width="1.7" stroke-linejoin="round" stroke-linecap="butt"/>
<polyline points="1677.88,159.62 1679.38,163 1681.62,165.25" fill="none" stroke="#0000ff" stroke-width="1.7" stroke-linejoin="round" stroke-linecap="butt"/>
<polyline points="1681.25,169.38 1679,172.75 1681.25,174.25 1679.75,175.75 1681.25,178.38" fill="none" stroke="#0000ff" stroke-width="1.7" stroke-linejoin="round" stroke-linecap="butt"/>
<polyline points="1679.38,183.25 1678.62,185.5 1680.12,187 1678.62,188.88 1679.75,190.75 1678.62,193 1680.12,195.62 1678.62,197.5 1679.75,199" fill="none" stroke="#0000ff" stroke-width="1.7" stroke-linejoin="round" stroke-linecap="butt"/>
<polyline points="1678.25,212.62 1679.38,216 1678.25,219 1679.75,221.25 1678.25,224.25 1679,226.12" fill="none" stroke="#0000ff" stroke-width="1.7" stroke-linejoin="round" stroke-linecap="butt"/>
<polyline points="1678.62,232.12 1681.62,234.15" fill="none" stroke="#0000ff" stroke-width="1.7" stroke-linejoin="round" stroke-linecap="butt"/>
<polyline points="1677.88,243.38 1683.5,245.1 1677.88,246.75" fill="none" stroke="#0000ff" stroke-width="1.7" stroke-linejoin="round" stroke-linecap="butt"/>
<polyline points="1678.25,249.6 1679.75,252 1677.88,255" fill="none" stroke="#0000ff" stroke-width="1.7" stroke-linejoin="round" stroke-linecap="butt"/>
<polyline points="1678.1,258 1679.6,259.88 1677.88,261.75" fill="none" stroke="#0000ff" stroke-width="1.7" stroke-linejoin="round" stroke-linecap="butt"/>
<polyline points="1678.25,269.25 1679.75,270.75" fill="none" stroke="#0000ff" stroke-width="1.7" stroke-linejoin="round" stroke-linecap="butt"/>
<polyline points="1679,273.75 1681.25,277.5" fill="none" stroke="#0000ff" stroke-width="1.7" stroke-linejoin="round" stroke-linecap="butt"/>
<polyline points="1679,286.5 1681.25,288.6" fill="none" stroke="#0000ff" stroke-width="1.7" stroke-linejoin="round" stroke-linecap="butt"/>
<polyline points="1678.62,291.38 1680.12,293.25 1678.25,295.12 1681.62,296.62 1678.25,298.5" fill="none" stroke="#0000ff" stroke-width="1.7" stroke-linejoin="round" stroke-linecap="butt"/>
<polyline points="1678.25,304.25 1682.38,307.62 1678.25,309.5 1680.5,311.75 1678.25,313.25 1680.88,316.25 1678.62,318.5 1682,320 1683.5,322.1 1678.62,323.38 1679.75,326.75 1681.62,328.85" fill="none" stroke="#0000ff" stroke-width="1.7" stroke-linejoin="round" stroke-linecap="butt"/>
<polyline points="1678.25,333.12 1679.38,335 1677.88,338 1679.38,341 1678.25,343.25" fill="none" stroke="#0000ff" stroke-width="1.7" stroke-linejoin="round" stroke-linecap="butt"/>
<polyline points="1680.88,346.25 1678.62,348.5 1679.75,349.85" fill="none" stroke="#0000ff" stroke-width="1.7" stroke-linejoin="round" stroke-linecap="butt"/>
<polyline points="1678.25,352.25 1680.12,356.75 1679,357.5" fill="none" stroke="#0000ff" stroke-width="1.7" stroke-linejoin="round" stroke-linecap="butt"/>
<polyline points="1680.12,360.5 1678.62,364.25 1680.12,368.75" fill="none" stroke="#0000ff" stroke-width="1.7" stroke-linejoin="round" stroke-linecap="butt"/>
<polyline points="1678.25,371.6 1680.12,374.75 1678.62,377 1680.5,380 1682,381.65 1678.62,383 1680.12,386 1678.25,389 1680.88,393.5 1679,396.5 1680.5,398.75 1678.62,401.75 1679.75,404.75 1679.75,407.5 1678.25,409.75 1680.5,412 1678.62,415 1680.12,418 1678.62,421.75 1680.12,424 1678.62,428.5 1679.75,435.25 1678.25,437.5 1680.12,439.38 1678.25,442 1680.12,443.5 1678.4,446.5 1680.5,451 1678.62,454 1681.25,457 1678.25,459.25 1679.75,463.75 1678.62,467.5 1679.75,471.25 1678.4,473.5 1680.5,474.62 1678.62,478 1680.12,482.5 1678.62,486.25 1680.5,490 1678.85,493 1682.38,495.4 1682,495 1678.62,497.25 1680.5,499.5 1679.38,502.5 1681.62,506.85 1678.62,509.62 1680.5,513 1678.62,515.25 1680.12,517.5 1678.62,520.5 1680.12,524.25 1678.25,526.5 1680.12,529.5 1678.62,532.5 1680.12,534.75 1679.38,536.25 1681.25,538.12 1680.5,541.5 1679.75,544.5 1682.38,546.9 1678.62,550.12 1682.38,555 1680.12,556.88 1682.38,558.75 1681.25,560.25 1683.12,561.75 1679.75,566.25 1681.25,569.25 1681.62,573 1682.38,576 1682,579.75 1682.75,582.75 1685.38,585.75 1682.75,588.75 1685.38,593.25 1685.5,585 1683.25,588.75 1686.25,592.5 1683.25,596.25 1687.75,599.25 1686.25,603.75 1687.75,607.2 1683.7,612.75 1689.25,615 1686.7,617.25 1690.75,621 1689.25,624.75 1691.95,628.5 1686.7,632.25 1690.75,636.75 1689.25,639 1691.95,641.25 1689.25,646.5 1692.25,648 1688.95,651 1693,654.3 1687.45,655.8 1690.75,660 1689.25,663 1692.7,666.75 1689.25,668.25 1693,672 1690.75,675 1694.5,677.25 1689.25,680.25 1693.75,684 1690.75,687.75 1691.95,693 1693,697.5 1696.75,700.8 1693,703.5 1694.2,709.5 1693.3,712.5 1696,716.25 1691.95,718.5 1695.25,723 1694.2,725.25 1696.45,726.75 1693.3,731.25 1696,733.5 1692.25,738 1696.45,739.5 1692.55,743.7 1696,746.25 1693,748.5 1696.3,754.5 1694.8,757.5 1696.75,762 1695.25,765 1700.5,768.3 1695.25,771 1697.5,774.75 1695.25,777 1696.75,780 1695.7,786 1698.7,787.5 1696.75,791.25 1699.3,792.75 1693,794.25 1695.25,796.5 1693.75,807 1696,810 1694.5,818.25 1698.25,821.25 1696.45,826.5 1699.3,832.5 1697.5,836.25 1699.75,841.5 1701.25,845.25 1699.75,849 1703.5,853.5 1700.8,855 1703.8,857.25 1702,858.75 1704.7,862.8 1700.8,864.75 1702.75,868.5 1702,871.5 1704.55,874.5 1702,878.25 1704.7,882 1703.5,884.25 1706.5,885.75 1703.5,888 1704.25,894 1702,897 1705,899.7 1701.7,901.8 1704.25,904.5 1703.8,909 1706.05,912 1701.7,917.7 1705,922.5 1703.5,927.75 1704.25,937.5 1705.45,942.75 1703.8,945 1706.05,951 1703.8,953.25 1705.75,959.25 1704.7,966 1706.2,971.25 1705,975 1706.8,980.25 1705.3,984 1706.8,997.5 1705.75,1012.5 1707.25,1021.5 1706.2,1030.5 1707.7,1045.5 1706.8,1059 1708,1077 1707.25,1095 1708,1104 1709.5,1113 1710.5,1120 1712,1127.5 1713.12,1138 1713.12,1146.25 1712,1151.5 1710.5,1153.75 1713.12,1155.25 1711.25,1159.75 1713.12,1161.62 1709.75,1165 1710.88,1168 1708.62,1169.88 1710.88,1171.75 1710.5,1173.25 1704.88,1177.38 1710.12,1180 1706.75,1182.25 1710.5,1184.5 1709,1187.5 1705.62,1189 1709.75,1190.5 1705.85,1192.38" fill="none" stroke="#0000ff" stroke-width="1.7" stroke-linejoin="round" stroke-linecap="butt"/>
<polyline points="1707.12,1195.38 1704.5,1198" fill="none" stroke="#0000ff" stroke-width="1.7" stroke-linejoin="round" stroke-linecap="butt"/>
<polyline points="1699.25,122.5 1785.88,126.25 1695.5,127.9" fill="none" stroke="#008000" stroke-width="1.7" stroke-linejoin="round" stroke-linecap="butt"/>
<polyline points="1699.4,130.6 1700.38,132.62 1703,134.12 1787.75,135.85" fill="none" stroke="#008000" stroke-width="1.7" stroke-linejoin="round" stroke-linecap="butt"/>
<polyline points="1697,153.4 1719.88,155.12 1693.25,156.85" fill="none" stroke="#008000" stroke-width="1.7" stroke-linejoin="round" stroke-linecap="butt"/>
<polyline points="1695.5,159.62 1694,161.65 1765.1,164.72" fill="none" stroke="#008000" stroke-width="1.7" stroke-linejoin="round" stroke-linecap="butt"/>
<polyline points="1754.38,169.38 1693.25,172.75 1769.75,174.4 1755.12,176.12 1764.88,177.62" fill="none" stroke="#008000" stroke-width="1.7" stroke-linejoin="round" stroke-linecap="butt"/>
<polyline points="1725.12,183.85 1691.38,185.5 1733.75,188.88 1691.38,190.38 1711.25,191.88 1691.38,193.75 1738.62,195.25 1694.38,196.9 1714.62,198.4" fill="none" stroke="#008000" stroke-width="1.7" stroke-linejoin="round" stroke-linecap="butt"/>
<polyline points="1694.75,212.62 1691,214.5 1692.5,217.12 1723.25,219.38 1689.12,221.1 1716.5,223.5 1689.12,225.9" fill="none" stroke="#008000" stroke-width="1.7" stroke-linejoin="round" stroke-linecap="butt"/>
<polyline points="1689.35,232.12 1761.5,233.85" fill="none" stroke="#008000" stroke-width="1.7" stroke-linejoin="round" stroke-linecap="butt"/>
<polyline points="1689.35,243.38 1812.5,245.03 1709.38,246.75" fill="none" stroke="#008000" stroke-width="1.7" stroke-linejoin="round" stroke-linecap="butt"/>
<polyline points="1690.25,249.6 1708.62,251.62 1707.5,253.35 1687.85,255" fill="none" stroke="#008000" stroke-width="1.7" stroke-linejoin="round" stroke-linecap="butt"/>
<polyline points="1689.88,257.85 1712.75,259.5 1687.62,261.38" fill="none" stroke="#008000" stroke-width="1.7" stroke-linejoin="round" stroke-linecap="butt"/>
<polyline points="1704.35,270.75 1716.88,269.1" fill="none" stroke="#008000" stroke-width="1.7" stroke-linejoin="round" stroke-linecap="butt"/>
<polyline points="1704.88,273.75 1701.12,275.4 1747.62,277.12" fill="none" stroke="#008000" stroke-width="1.7" stroke-linejoin="round" stroke-linecap="butt"/>
<polyline points="1718.38,286.65 1741.25,288.38" fill="none" stroke="#008000" stroke-width="1.7" stroke-linejoin="round" stroke-linecap="butt"/>
<polyline points="1702.1,291.38 1730.6,293.1 1686.35,294.9 1747.1,296.4 1687.85,298.12" fill="none" stroke="#008000" stroke-width="1.7" stroke-linejoin="round" stroke-linecap="butt"/>
<polyline points="1686.12,304.25 1777.85,307.62 1714.25,309.35 1740.88,310.85 1685.38,312.5 1685,315.65 1734.65,317.23 1685.75,320.6 1802,322.1 1684.25,324.65 1700,326.9 1749.12,328.62" fill="none" stroke="#008000" stroke-width="1.7" stroke-linejoin="round" stroke-linecap="butt"/>
<polyline points="1696.1,333.12 1707.88,335 1685,336.12 1683.35,338 1685,340.1 1709.75,343.25" fill="none" stroke="#008000" stroke-width="1.7" stroke-linejoin="round" stroke-linecap="butt"/>
<polyline points="1733.75,346.1 1685.38,347.9 1696.62,349.62" fill="none" stroke="#008000" stroke-width="1.7" stroke-linejoin="round" stroke-linecap="butt"/>
<polyline points="1685,352.25 1684.62,354.5 1718,355.85 1726.62,357.5" fill="none" stroke="#008000" stroke-width="1.7" stroke-linejoin="round" stroke-linecap="butt"/>
<polyline points="1723.85,360.5 1704.35,362.38 1717.4,363.88 1694.38,367.1 1719.65,368.75" fill="none" stroke="#008000" stroke-width="1.7" stroke-linejoin="round" stroke-linecap="butt"/>
<polyline points="1683.12,371.6 1711.25,373.4 1691.75,375.12 1724.6,376.77 1683.5,380 1754,381.5 1716.5,383.38 1712,386 1690.62,389.6 1730.75,394.25 1690.1,396.12 1725.88,397.62 1692.88,399.35 1700,400.62 1701.88,402.5 1700,404 1684.25,405.4 1703,407.12 1682,409 1721,411.85 1690.25,413.65 1703,415 1714.62,418.15 1699.25,419.88 1712.75,424.6 1699.62,426.62 1703,428.12 1700.75,430.38 1694.75,432.62 1711.62,435.85 1681.25,437.88 1712.75,439.15 1694.38,440.88 1715.75,443.88 1682.38,445.75 1688,447.25 1687.25,449.12 1717.25,450.4 1695.12,454.15 1695.5,455.5 1730.38,457 1681.25,458.88 1703.75,460.15 1692.5,461.88 1699.62,463 1705.25,466.38 1694,468.25 1693.25,470.5 1699.25,473.12 1717.62,474.62 1694,477.25 1693.62,479.12 1711.25,482.5 1692.5,484.38 1719.12,485.88 1710.88,487.38 1715,488.88 1697.75,491.88 1742.38,495.25 1742.38,495.38 1698.12,496.88 1711.25,498.38 1692.88,500.25 1719.88,503.4 1701.12,504.9 1736.75,506.85 1681.25,510 1685.75,511.88 1721.75,513.15 1691.38,514.88 1712.38,516.6 1706.75,517.88 1688.75,519.75 1696.25,521.25 1698.5,523.12 1712,524.4 1688.38,525.75 1688.38,527.62 1717.62,529.35 1694.75,532.35 1715.75,534 1701.12,535.88 1728.5,537.6 1725.12,539.25 1716.5,540.75 1712.75,541.88 1710.88,543.6 1693.25,545.25 1742.75,546.9 1687.25,550.12 1705.25,551.62 1710.5,553.12 1745.75,555 1712,556.65 1744.62,558.15 1722.88,559.88 1753.62,561.38 1730,564 1701.12,566.25 1718,567.75 1727,569.25 1730.38,571.12 1724,571.88 1722.5,573 1724,574.12 1737.5,575.62 1741.62,577.5 1733.75,578.62 1732.25,580.5 1735.25,582.38 1748.75,584.1 1778.75,585.9 1776.5,587.1 1743.12,588.75 1760,590.62 1764.5,591.75 1778.75,593.4 1778.5,586.2 1743.25,588.3 1778.5,593.25 1747,596.25 1793.5,598.2 1805.2,599.7 1784.5,604.5 1808.5,606 1765,607.8 1789,609.3 1750.75,612.45 1818.25,613.95 1789,617.25 1825,618.75 1833.25,621.75 1814.5,624 1847.5,627 1831,628.8 1840,630.3 1778.5,632.25 1828,636.75 1810,638.25 1842.25,640.2 1828.75,642.75 1845.7,644.7 1806.25,646.5 1804,648 1820.5,649.8 1807.75,652.2 1849.3,654.3 1788.25,655.95 1815.25,657.75 1813,659.25 1834.3,662.25 1800.7,664.2 1806.25,666 1849.75,668.7 1819.75,670.8 1825.75,672 1825.75,675 1860.7,676.5 1813,678.75 1808.2,680.25 1814.5,682.2 1844.5,683.25 1849.3,684.45 1818.25,687 1832.5,688.5 1822.75,690 1823.8,693 1834,694.8 1834.75,696.75 1876,700.8 1831.75,702.75 1845.25,704.25 1832.5,706.5 1842.25,708.75 1837,710.7 1850.5,712.2 1834.75,713.7 1863.25,715.5 1822,718.5 1846,720 1832.5,721.8 1852,723.3 1846,725.25 1864.3,726.3 1839.25,729.75 1829.5,731.25 1850.8,733.2 1834,734.7 1857.25,736.2 1819.3,738 1862.5,739.2 1837,741 1853.5,742.5 1820.5,744.3 1847.5,745.8 1822,748.2 1834,751.5 1855,754.2 1837.75,755.25 1858,757.2 1841.5,759 1853.5,763.5 1837.75,765 1888,768 1846,770.25 1842.25,771.75 1870.75,772.8 1838.5,775.2 1857.7,779.7 1846,780.75 1843.75,783.75 1846,786 1865.2,787.2 1843,790.5 1869.25,792.75 1816.75,794.25 1841.5,795.75 1821.25,797.25 1831,799.2 1827.25,802.5 1821.25,804 1828.75,805.5 1816,807.3 1838.5,808.5 1820.2,810.3 1838.5,811.8 1829.5,813.3 1839.25,816.3 1822.3,818.25 1853.5,821.25 1842.25,822.75 1837.75,825.75 1843.75,828 1842.25,829.5 1860.25,832.5 1844.2,834.3 1858.75,837 1850.5,839.25 1859.5,841.2 1871.5,845.25 1857.25,846.75 1868.8,848.7 1856.5,850.2 1884.25,853.5 1867,855 1889.2,856.8 1867.3,858.75 1893.25,862.8 1865.2,865.2 1876,867 1867.75,868.8 1878.25,870.75 1873,872.7 1888.75,874.5 1867.75,875.7 1881.25,877.2 1873.75,878.7 1887.7,880.8 1876,882.75 1898.8,885.75 1875.7,887.7 1880.5,890.7 1877.5,892.2 1884.25,894 1863.7,896.7 1884.25,899.7 1858.75,901.8 1876.75,903.75 1877.5,907.5 1868.5,909.3 1886.8,911.7 1875.25,913.8 1875.25,915.75 1856.8,917.7 1876,922.2 1862.8,924.3 1873,927.75 1864.75,929.7 1864,932.25 1871.2,933.75 1864.3,935.25 1870.75,937.5 1867.75,939.75 1876.75,943.2 1864.75,945.3 1870.75,948.75 1879,951 1861,953.25 1873,954.75 1867.75,957 1875.55,959.25 1864.75,963.75 1872.25,967.5 1862.5,969.3 1874.5,970.8 1859.8,974.25 1867.75,976.5 1875.25,980.25 1862.5,984 1869.25,986.7 1863.25,989.25 1869.7,992.7 1856.5,994.5 1869.7,996.3 1858.75,997.8 1866.7,999.75 1862.5,1002.75 1864.3,1006.5 1856.2,1011.75 1863.7,1014.3 1860.25,1016.25 1862.8,1019.25 1867.75,1022.25 1857.7,1023.75 1863.7,1025.25 1858.3,1028.25 1858.75,1030.5 1857.25,1033.5 1861.75,1035 1857.7,1038 1858.75,1042.5 1863.25,1044.3 1855.75,1047 1862.5,1048.8 1853.5,1052.25 1862.2,1054.2 1854.7,1056.75 1855.75,1060.5 1854.25,1062.75 1856.5,1065 1851.7,1067.25 1854.25,1068.75 1850.2,1070.25 1855,1073.25 1852,1074.75 1856.5,1077 1850.2,1080 1852,1081.5 1848.25,1086.75 1851.25,1087.5 1846,1094.25 1849.75,1095.75 1845.7,1097.25 1848.25,1099.5 1846.75,1104 1850.5,1110 1854.25,1114.5 1858.75,1119.75 1857.5,1120 1853.75,1121.5 1860.12,1123.38 1859.75,1125.62 1863.5,1127.88 1858.62,1129.6 1863.5,1131.25 1861.62,1133.12 1863.88,1136.12 1866.65,1137.85 1865,1139.5 1865.38,1142.5 1862.6,1144.38 1863.35,1147 1858.62,1150.75 1860.5,1152.25 1850.6,1153.6 1860.88,1155.1 1852.25,1159 1850.6,1160.35 1859,1161.85 1844.75,1164.62 1842.5,1166.12 1848.5,1168 1834.62,1169.65 1845.12,1171.75 1843.62,1173.25 1815.88,1177.75 1837.25,1180 1839.65,1181.12 1824.5,1182.62 1839.65,1184.12 1832,1187.12 1816.25,1188.85 1835.6,1190.5 1817,1192.15" fill="none" stroke="#008000" stroke-width="1.7" stroke-linejoin="round" stroke-linecap="butt"/>
<polyline points="1821.88,1195.38 1812.12,1197.25" fill="none" stroke="#008000" stroke-width="1.7" stroke-linejoin="round" stroke-linecap="butt"/>
</g>
<line x1="1677" y1="1198.5" x2="1677" y2="1204" stroke="#000" stroke-width="2"/>
<line x1="1728" y1="1198.5" x2="1728" y2="1204" stroke="#000" stroke-width="2"/>
<line x1="1779" y1="1198.5" x2="1779" y2="1204" stroke="#000" stroke-width="2"/>
<line x1="1830" y1="1198.5" x2="1830" y2="1204" stroke="#000" stroke-width="2"/>
<line x1="1881" y1="1198.5" x2="1881" y2="1204" stroke="#000" stroke-width="2"/>
<line x1="1932" y1="1198.5" x2="1932" y2="1204" stroke="#000" stroke-width="2"/>
<line x1="1677" y1="123.5" x2="1677" y2="117" stroke="#000" stroke-width="2"/>
<line x1="1728" y1="123.5" x2="1728" y2="117" stroke="#000" stroke-width="2"/>
<line x1="1779" y1="123.5" x2="1779" y2="117" stroke="#000" stroke-width="2"/>
<line x1="1830" y1="123.5" x2="1830" y2="117" stroke="#000" stroke-width="2"/>
<line x1="1881" y1="123.5" x2="1881" y2="117" stroke="#000" stroke-width="2"/>
<line x1="1932" y1="123.5" x2="1932" y2="117" stroke="#000" stroke-width="2"/>
<line x1="1677.5" y1="1198" x2="1671" y2="1198" stroke="#000" stroke-width="2"/>
<line x1="1932.5" y1="1198" x2="1938" y2="1198" stroke="#000" stroke-width="2"/>
<line x1="1677.5" y1="983" x2="1671" y2="983" stroke="#000" stroke-width="2"/>
<line x1="1932.5" y1="983" x2="1938" y2="983" stroke="#000" stroke-width="2"/>
<line x1="1677.5" y1="768" x2="1671" y2="768" stroke="#000" stroke-width="2"/>
<line x1="1932.5" y1="768" x2="1938" y2="768" stroke="#000" stroke-width="2"/>
<line x1="1677.5" y1="553" x2="1671" y2="553" stroke="#000" stroke-width="2"/>
<line x1="1932.5" y1="553" x2="1938" y2="553" stroke="#000" stroke-width="2"/>
<line x1="1677.5" y1="338" x2="1671" y2="338" stroke="#000" stroke-width="2"/>
<line x1="1932.5" y1="338" x2="1938" y2="338" stroke="#000" stroke-width="2"/>
<line x1="1677.5" y1="123" x2="1671" y2="123" stroke="#000" stroke-width="2"/>
<line x1="1932.5" y1="123" x2="1938" y2="123" stroke="#000" stroke-width="2"/>
<rect x="1677.5" y="123.5" width="255" height="1075" fill="none" stroke="#000" stroke-width="1.1"/>
<text transform="translate(1677.26,1219.8) scale(0.9690,1)" font-family="'DejaVu Serif','Liberation Serif',serif" font-size="16.67" fill="#000" text-anchor="middle">0</text>
<text transform="translate(1727.79,1219.8) scale(0.9690,1)" font-family="'DejaVu Serif','Liberation Serif',serif" font-size="16.67" fill="#000" text-anchor="middle">10</text>
<text transform="translate(1779.23,1219.8) scale(0.9690,1)" font-family="'DejaVu Serif','Liberation Serif',serif" font-size="16.67" fill="#000" text-anchor="middle">20</text>
<text transform="translate(1830.17,1219.8) scale(0.9690,1)" font-family="'DejaVu Serif','Liberation Serif',serif" font-size="16.67" fill="#000" text-anchor="middle">30</text>
<text transform="translate(1881.53,1219.8) scale(0.9690,1)" font-family="'DejaVu Serif','Liberation Serif',serif" font-size="16.67" fill="#000" text-anchor="middle">40</text>
<text transform="translate(1932.09,1219.8) scale(0.9690,1)" font-family="'DejaVu Serif','Liberation Serif',serif" font-size="16.67" fill="#000" text-anchor="middle">50</text>
<text transform="translate(1667.9,1204.4) scale(0.9690,1)" font-family="'DejaVu Serif','Liberation Serif',serif" font-size="16.67" fill="#000" text-anchor="end">0</text>
<text transform="translate(1667.9,989.4) scale(0.9690,1)" font-family="'DejaVu Serif','Liberation Serif',serif" font-size="16.67" fill="#000" text-anchor="end">1</text>
<text transform="translate(1667.9,774.4) scale(0.9690,1)" font-family="'DejaVu Serif','Liberation Serif',serif" font-size="16.67" fill="#000" text-anchor="end">2</text>
<text transform="translate(1667.9,559.4) scale(0.9690,1)" font-family="'DejaVu Serif','Liberation Serif',serif" font-size="16.67" fill="#000" text-anchor="end">3</text>
<text transform="translate(1667.9,344.4) scale(0.9690,1)" font-family="'DejaVu Serif','Liberation Serif',serif" font-size="16.67" fill="#000" text-anchor="end">4</text>
<text transform="translate(1667.9,129.4) scale(0.9690,1)" font-family="'DejaVu Serif','Liberation Serif',serif" font-size="16.67" fill="#000" text-anchor="end">5</text>
</g>
<text x="124.9" y="1248" font-family="'DejaVu Serif','Liberation Serif',serif" font-size="20.2" fill="#000">Backsc. coeff. [Msr<tspan font-family="'DejaVu Sans','Liberation Sans',sans-serif" font-size="14" dy="-7.5">−1</tspan><tspan dy="7.5">&#8203;</tspan> m<tspan font-family="'DejaVu Sans','Liberation Sans',sans-serif" font-size="14" dy="-7.5">−1</tspan><tspan dy="7.5">&#8203;</tspan>]</text>
<text x="457.9" y="1248" font-family="'DejaVu Serif','Liberation Serif',serif" font-size="20.2" fill="#000">Extinct. coeff. [Mm<tspan font-family="'DejaVu Sans','Liberation Sans',sans-serif" font-size="14" dy="-7.5">−1</tspan><tspan dy="7.5">&#8203;</tspan>]</text>
<text x="877.3" y="1243.6" font-family="'DejaVu Serif','Liberation Serif',serif" font-size="20.2" fill="#000" text-anchor="middle">Lidar ratio [Sr]</text>
<text x="1112.5" y="1249.5" font-family="'DejaVu Serif','Liberation Serif',serif" font-size="20.2" fill="#000"><tspan font-family="'DejaVu Sans','Liberation Sans',sans-serif" font-style="oblique">Å</tspan>ngström Exp.</text>
<text x="1496.3" y="1243.8" font-family="'DejaVu Serif','Liberation Serif',serif" font-size="20.2" fill="#000" text-anchor="middle">Depol. ratio</text>
<text x="1720.6" y="1248" font-family="'DejaVu Serif','Liberation Serif',serif" font-size="20.2" fill="#000">WVMR [<tspan font-family="'DejaVu Sans','Liberation Sans',sans-serif" font-style="oblique">g</tspan><tspan font-family="'DejaVu Sans','Liberation Sans',sans-serif" dx="4.6">*</tspan><tspan font-family="'DejaVu Sans','Liberation Sans',sans-serif" font-style="oblique" dx="4.4">kg</tspan><tspan font-family="'DejaVu Sans','Liberation Sans',sans-serif" font-size="14" dy="-7.5">−1</tspan><tspan dy="7.5">&#8203;</tspan>]</text>
<text x="1804.8" y="93" font-family="'DejaVu Serif','Liberation Serif',serif" font-size="20.2" fill="#000" text-anchor="middle">Rel.Humidity [%]</text>
<text transform="translate(1677.26,110.1) scale(0.9690,1)" font-family="'DejaVu Serif','Liberation Serif',serif" font-size="16.67" fill="#000" text-anchor="middle">0</text>
<text transform="translate(1728.23,110.1) scale(0.9690,1)" font-family="'DejaVu Serif','Liberation Serif',serif" font-size="16.67" fill="#000" text-anchor="middle">20</text>
<text transform="translate(1779.53,110.1) scale(0.9690,1)" font-family="'DejaVu Serif','Liberation Serif',serif" font-size="16.67" fill="#000" text-anchor="middle">40</text>
<text transform="translate(1830.23,110.1) scale(0.9690,1)" font-family="'DejaVu Serif','Liberation Serif',serif" font-size="16.67" fill="#000" text-anchor="middle">60</text>
<text transform="translate(1881.23,110.1) scale(0.9690,1)" font-family="'DejaVu Serif','Liberation Serif',serif" font-size="16.67" fill="#000" text-anchor="middle">80</text>
<text transform="translate(1931.8,110.1) scale(0.9690,1)" font-family="'DejaVu Serif','Liberation Serif',serif" font-size="16.67" fill="#000" text-anchor="middle">100</text>
<text transform="translate(103.3,662.0) rotate(-90)" text-anchor="middle" font-family="'DejaVu Serif','Liberation Serif',serif" font-size="20.2" fill="#000">Height [km]</text>
<rect x="149.5" y="131.5" width="229.8" height="129" rx="3.2" ry="3.2" fill="#fff" fill-opacity="0.8" stroke="#ccc" stroke-opacity="0.8" stroke-width="1.39"/>
<line x1="154.3" y1="144.9" x2="186.7" y2="144.9" stroke="#0000ff" stroke-width="2"/>
<text transform="translate(199.1,150.85) scale(1.0246,1)" font-family="'DejaVu Serif Condensed','DejaVu Serif','Liberation Serif',serif" font-size="16.67" fill="#000">aerBsc_klett_355_FR</text>
<line x1="154.3" y1="170" x2="186.7" y2="170" stroke="#008000" stroke-width="2"/>
<text transform="translate(199.1,175.95) scale(1.0246,1)" font-family="'DejaVu Serif Condensed','DejaVu Serif','Liberation Serif',serif" font-size="16.67" fill="#000">aerBsc_klett_532_FR</text>
<line x1="154.3" y1="194.9" x2="186.7" y2="194.9" stroke="#ff0000" stroke-width="2"/>
<text transform="translate(199.1,200.85) scale(1.0246,1)" font-family="'DejaVu Serif Condensed','DejaVu Serif','Liberation Serif',serif" font-size="16.67" fill="#000">aerBsc_klett_1064_FR</text>
<line x1="154.3" y1="219" x2="186.7" y2="219" stroke="#78ffff" stroke-width="2"/>
<text transform="translate(199.1,224.95) scale(1.0246,1)" font-family="'DejaVu Serif Condensed','DejaVu Serif','Liberation Serif',serif" font-size="16.67" fill="#000">aerBsc_klett_355_NR</text>
<line x1="154.3" y1="243.9" x2="186.7" y2="243.9" stroke="#78ff78" stroke-width="2"/>
<text transform="translate(199.1,249.85) scale(1.0246,1)" font-family="'DejaVu Serif Condensed','DejaVu Serif','Liberation Serif',serif" font-size="16.67" fill="#000">aerBsc_klett_532_NR</text>
<rect x="449" y="131.7" width="239.8" height="78.3" rx="3.2" ry="3.2" fill="#fff" fill-opacity="0.8" stroke="#ccc" stroke-opacity="0.8" stroke-width="1.39"/>
<line x1="453.2" y1="144.9" x2="486" y2="144.9" stroke="#0000ff" stroke-width="2"/>
<text transform="translate(497.1,150.75) scale(1.0246,1)" font-family="'DejaVu Serif Condensed','DejaVu Serif','Liberation Serif',serif" font-size="16.67" fill="#000">aerBsc_klett_355 x LR</text>
<line x1="453.2" y1="169.9" x2="486" y2="169.9" stroke="#008000" stroke-width="2"/>
<text transform="translate(497.1,175.75) scale(1.0246,1)" font-family="'DejaVu Serif Condensed','DejaVu Serif','Liberation Serif',serif" font-size="16.67" fill="#000">aerBsc_klett_532 x LR</text>
<line x1="453.2" y1="195" x2="486" y2="195" stroke="#ff0000" stroke-width="2"/>
<text transform="translate(497.1,200.85) scale(1.0246,1)" font-family="'DejaVu Serif Condensed','DejaVu Serif','Liberation Serif',serif" font-size="16.67" fill="#000">aerBsc_klett_1064 x LR</text>
<rect x="985.5" y="131.7" width="13" height="12.8" rx="3.2" ry="3.2" fill="#fff" fill-opacity="0.8" stroke="#ccc" stroke-opacity="0.8" stroke-width="1.39"/>
<rect x="1294.5" y="131.7" width="13" height="12.8" rx="3.2" ry="3.2" fill="#fff" fill-opacity="0.8" stroke="#ccc" stroke-opacity="0.8" stroke-width="1.39"/>
<rect x="1367.5" y="131.7" width="247.5" height="78.3" rx="3.2" ry="3.2" fill="#fff" fill-opacity="0.8" stroke="#ccc" stroke-opacity="0.8" stroke-width="1.39"/>
<line x1="1372.5" y1="144.9" x2="1405" y2="144.9" stroke="#0000ff" stroke-width="2"/>
<text transform="translate(1417,149.95) scale(1.0246,1)" font-family="'DejaVu Serif Condensed','DejaVu Serif','Liberation Serif',serif" font-size="16.67" fill="#000">parDepol_klett_355_FR</text>
<line x1="1372.5" y1="170" x2="1405" y2="170" stroke="#008000" stroke-width="2"/>
<text transform="translate(1417,175.05) scale(1.0246,1)" font-family="'DejaVu Serif Condensed','DejaVu Serif','Liberation Serif',serif" font-size="16.67" fill="#000">parDepol_klett_532_FR</text>
<line x1="1372.5" y1="194.9" x2="1405" y2="194.9" stroke="#ff0000" stroke-width="2"/>
<text transform="translate(1417,199.95) scale(1.0246,1)" font-family="'DejaVu Serif Condensed','DejaVu Serif','Liberation Serif',serif" font-size="16.67" fill="#000">parDepol_klett_1064_FR</text>
<rect x="1814.3" y="131.4" width="110.4" height="30.1" rx="3.2" ry="3.2" fill="#fff" fill-opacity="0.8" stroke="#ccc" stroke-opacity="0.8" stroke-width="1.39"/>
<line x1="1819" y1="145" x2="1852" y2="145" stroke="#0000ff" stroke-width="2"/>
<text transform="translate(1864.3,150.2) scale(1.0246,1)" font-family="'DejaVu Serif Condensed','DejaVu Serif','Liberation Serif',serif" font-size="16.67" fill="#000">WVMR</text>
<rect x="1818.3" y="185.5" width="81.3" height="29" rx="3.2" ry="3.2" fill="#fff" fill-opacity="0.8" stroke="#ccc" stroke-opacity="0.8" stroke-width="1.39"/>
<line x1="1823" y1="199" x2="1856" y2="199" stroke="#008000" stroke-width="2"/>
<text transform="translate(1868.6,204) scale(1.0246,1)" font-family="'DejaVu Serif Condensed','DejaVu Serif','Liberation Serif',serif" font-size="16.67" fill="#000">RH</text>
<rect x="589.3" y="231.3" width="93.7" height="62.5" fill="#eeeff6" fill-opacity="0.8"/>
<text x="595.3" y="246.9" font-family="'DejaVu Serif Condensed','DejaVu Serif','Liberation Serif',serif" font-size="13.5" fill="#000">LR<tspan font-family="'DejaVu Sans Condensed','DejaVu Sans','Liberation Sans',sans-serif" font-size="9.5" dy="2.3">355</tspan><tspan dy="-2.3">: 50.00</tspan></text>
<text x="595.3" y="264.9" font-family="'DejaVu Serif Condensed','DejaVu Serif','Liberation Serif',serif" font-size="13.5" fill="#000">LR<tspan font-family="'DejaVu Sans Condensed','DejaVu Sans','Liberation Sans',sans-serif" font-size="9.5" dy="2.3">532</tspan><tspan dy="-2.3">: 50.00</tspan></text>
<text x="595.3" y="284.1" font-family="'DejaVu Serif Condensed','DejaVu Serif','Liberation Serif',serif" font-size="13.5" fill="#000">LR<tspan font-family="'DejaVu Sans Condensed','DejaVu Sans','Liberation Sans',sans-serif" font-size="9.5" dy="2.3">1064</tspan><tspan dy="-2.3">: 50.00</tspan></text>
<rect x="1415.1" y="277.2" width="95.8" height="71.4" fill="#eeeff6" fill-opacity="0.8"/>
<text x="1420.2" y="295.6" font-family="'DejaVu Serif','Liberation Serif',serif" font-size="15.5" fill="#000"><tspan font-family="'DejaVu Sans','Liberation Sans',sans-serif" font-style="oblique">η</tspan><tspan font-family="'DejaVu Sans','Liberation Sans',sans-serif" font-size="10.8" dy="2.64">355</tspan><tspan dy="-2.64">: 20.00</tspan></text>
<text x="1420.2" y="317.7" font-family="'DejaVu Serif','Liberation Serif',serif" font-size="15.5" fill="#000"><tspan font-family="'DejaVu Sans','Liberation Sans',sans-serif" font-style="oblique">η</tspan><tspan font-family="'DejaVu Sans','Liberation Sans',sans-serif" font-size="10.8" dy="2.64">532</tspan><tspan dy="-2.64">: 23.00</tspan></text>
<text x="1420.2" y="337.5" font-family="'DejaVu Serif','Liberation Serif',serif" font-size="15.5" fill="#000"><tspan font-family="'DejaVu Sans','Liberation Sans',sans-serif" font-style="oblique">η</tspan><tspan font-family="'DejaVu Sans','Liberation Sans',sans-serif" font-size="10.8" dy="2.64">1064</tspan><tspan dy="-2.64">: nan</tspan></text>
<rect x="195" y="1275.8" width="210.8" height="66" fill="#eeeff6" fill-opacity="0.8"/>
<text transform="translate(199.8,1295) scale(1.0320,1)" font-family="'DejaVu Serif Condensed','DejaVu Serif','Liberation Serif',serif" font-size="16.67" fill="#000">ref.H_355: 7.19-7.56 km</text>
<text transform="translate(199.8,1314) scale(1.0320,1)" font-family="'DejaVu Serif Condensed','DejaVu Serif','Liberation Serif',serif" font-size="16.67" fill="#000">ref.H_532: 6.62-7.31 km</text>
<text transform="translate(199.8,1333.8) scale(1.0320,1)" font-family="'DejaVu Serif Condensed','DejaVu Serif','Liberation Serif',serif" font-size="16.67" fill="#000">ref.H_1064: 5.56-6.23 km</text>
<rect x="1695" y="1273.8" width="175" height="28.2" fill="#eeeff6" fill-opacity="0.8"/>
<text transform="translate(1699.8,1292) scale(1.0370,1)" font-family="'DejaVu Serif Condensed','DejaVu Serif','Liberation Serif',serif" font-size="16.67" fill="#000">WV-calib.const.: 11.1</text>
<text x="1001" y="1328.8" font-family="'DejaVu Serif','Liberation Serif',serif" font-size="13.4" fill="#ff0000" font-weight="bold" fill-opacity="0.8">Preliminary</text>
<text x="1001" y="1343" font-family="'DejaVu Serif','Liberation Serif',serif" font-size="13.4" fill="#ff0000" font-weight="bold" fill-opacity="0.8">Results.</text>
<text x="1500.2" y="1332" font-family="'DejaVu Serif','Liberation Serif',serif" font-size="11.15" fill="#000" font-weight="bold">© TROPOS &amp; UW 2026.</text>
<text x="1500.2" y="1344" font-family="'DejaVu Serif','Liberation Serif',serif" font-size="11.15" fill="#000" font-weight="bold">CC BY SA 4.0 License.</text>
<g id="cc-badge">
<clipPath id="ccclip"><rect x="664.2" y="1257.1" width="272.6" height="94.9" rx="3.2" ry="3.2"/></clipPath>
<rect x="664.2" y="1257.1" width="272.6" height="94.9" rx="3.2" ry="3.2" fill="#333333"/>
<g clip-path="url(#ccclip)">
<rect x="666.3" y="1258.4" width="268.6" height="64.8" fill="#bac1bb"/>
<clipPath id="cchalo"><rect x="666.3" y="1300" width="120" height="60"/></clipPath>
<circle cx="711.4" cy="1300.4" r="44.0" fill="#bac1bb" clip-path="url(#cchalo)"/>
<rect x="664.2" y="1258.4" width="2.1" height="94" fill="#333333"/>
</g>
<circle cx="711.4" cy="1300.4" r="35.2" fill="#333333"/>
<circle cx="711.4" cy="1300.4" r="29.1" fill="#fff"/>
<text x="711.4" y="1311.6" text-anchor="middle" font-family="'Liberation Sans','DejaVu Sans',sans-serif" font-weight="bold" font-size="29.5" fill="#333333" stroke="#333333" stroke-width="1.3" stroke-linejoin="round" textLength="38.8" lengthAdjust="spacingAndGlyphs">CC</text>
<circle cx="808.1" cy="1290.1" r="26.3" fill="#333333"/>
<circle cx="808.1" cy="1290.1" r="21.9" fill="#fff"/>
<circle cx="872.8" cy="1290.1" r="26.3" fill="#333333"/>
<circle cx="872.8" cy="1290.1" r="21.9" fill="#fff"/>
<circle cx="808.1" cy="1276.6" r="3.7" fill="#333333"/>
<rect x="801.1" y="1282.2" width="14" height="12" rx="1" ry="1" fill="#333333"/>
<rect x="804.1" y="1293" width="8" height="13.9" fill="#333333"/>
<path d="M 863.3 1286.8 A 10.9 10.9 0 1 1 863.3 1294.4" fill="none" stroke="#333333" stroke-width="6"/>
<path d="M 859.1 1286.5 L 869.3 1286.5 L 864.1 1291.4 Z" fill="#333333"/>
<text x="806.6" y="1346" text-anchor="middle" font-family="'Liberation Sans','DejaVu Sans',sans-serif" font-weight="bold" font-size="22.4" fill="#fff" textLength="28.6" lengthAdjust="spacingAndGlyphs">BY</text>
<text x="870.5" y="1346" text-anchor="middle" font-family="'Liberation Sans','DejaVu Sans',sans-serif" font-weight="bold" font-size="22.4" fill="#fff" textLength="27.8" lengthAdjust="spacingAndGlyphs">SA</text>
</g>
</svg>
</body></html>
